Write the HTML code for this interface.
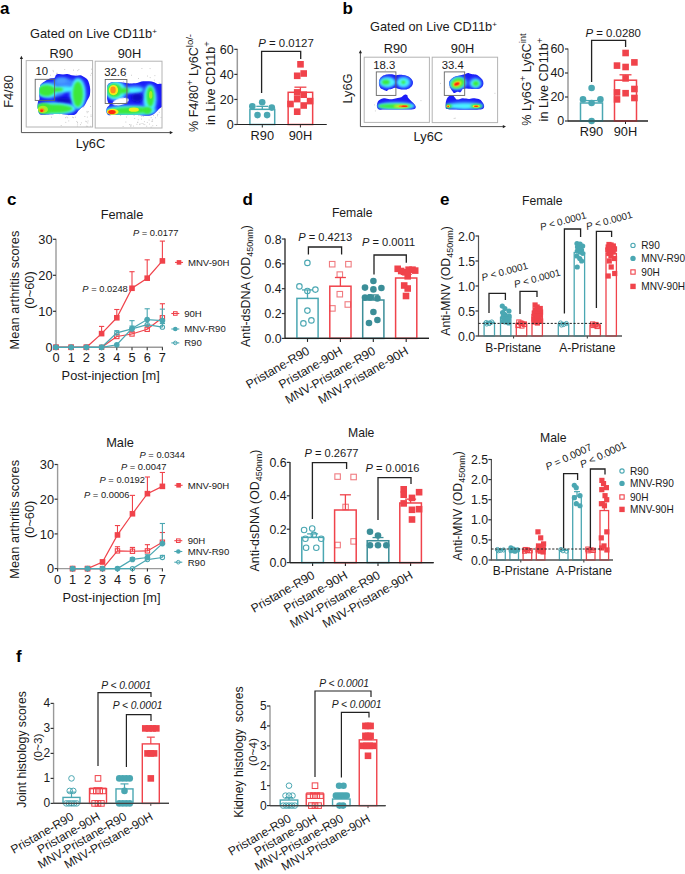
<!DOCTYPE html>
<html><head><meta charset="utf-8"><title>Figure</title>
<style>
html,body{margin:0;padding:0;background:#fff;}
body{width:685px;height:874px;overflow:hidden;position:relative;}
svg{position:absolute;left:0;top:0;}
text{font-family:"Liberation Sans",sans-serif;}
</style></head><body>
<svg width="685" height="874" viewBox="0 0 685 874" fill="#1a1a1a">
<rect x="0" y="0" width="685" height="874" fill="#fff"/>
<text x="0" y="13.5" font-size="17" font-weight="bold" fill="#000">a</text>
<text x="342.5" y="13.5" font-size="17" font-weight="bold" fill="#000">b</text>
<text x="7" y="205" font-size="17" font-weight="bold" fill="#000">c</text>
<text x="242.5" y="205" font-size="17" font-weight="bold" fill="#000">d</text>
<text x="440" y="205" font-size="17" font-weight="bold" fill="#000">e</text>
<text x="16" y="662" font-size="17" font-weight="bold" fill="#000">f</text>
<defs><filter id="fb1" x="-20%" y="-20%" width="140%" height="140%"><feGaussianBlur stdDeviation="0.55"/></filter><filter id="fb2" x="-50%" y="-50%" width="200%" height="200%"><feGaussianBlur stdDeviation="1.0"/></filter><filter id="fb4" x="-50%" y="-50%" width="200%" height="200%"><feGaussianBlur stdDeviation="1.6"/></filter><filter id="fb3" x="-50%" y="-50%" width="200%" height="200%"><feGaussianBlur stdDeviation="0.7"/></filter><clipPath id="clipA2"><rect x="95.2" y="61.6" width="66.8" height="66.4"/></clipPath></defs>
<rect x="63.6" y="74.75" width="0.9" height="0.9" fill="#c4c4c4"/>
<rect x="77.34" y="70.2" width="0.9" height="0.9" fill="#c4c4c4"/>
<rect x="72.51" y="87.21" width="0.9" height="0.9" fill="#c4c4c4"/>
<rect x="52.44" y="95.43" width="0.9" height="0.9" fill="#c4c4c4"/>
<rect x="51.57" y="91.15" width="0.9" height="0.9" fill="#c4c4c4"/>
<rect x="52.93" y="71.26" width="0.9" height="0.9" fill="#c4c4c4"/>
<rect x="67.83" y="113.96" width="0.9" height="0.9" fill="#c4c4c4"/>
<rect x="55.2" y="78.95" width="0.9" height="0.9" fill="#c4c4c4"/>
<rect x="76.35" y="120.97" width="0.9" height="0.9" fill="#c4c4c4"/>
<rect x="74.24" y="89.01" width="0.9" height="0.9" fill="#c4c4c4"/>
<rect x="91" y="68.7" width="0.9" height="0.9" fill="#c4c4c4"/>
<rect x="86.06" y="82.8" width="0.9" height="0.9" fill="#c4c4c4"/>
<rect x="56.06" y="72.83" width="0.9" height="0.9" fill="#c4c4c4"/>
<rect x="62.96" y="113.34" width="0.9" height="0.9" fill="#c4c4c4"/>
<rect x="57.59" y="99.73" width="0.9" height="0.9" fill="#c4c4c4"/>
<rect x="76.83" y="87.6" width="0.9" height="0.9" fill="#c4c4c4"/>
<rect x="73.01" y="69.64" width="0.9" height="0.9" fill="#c4c4c4"/>
<rect x="52.5" y="77.95" width="0.9" height="0.9" fill="#c4c4c4"/>
<rect x="78.58" y="90.8" width="0.9" height="0.9" fill="#c4c4c4"/>
<rect x="63.19" y="99.96" width="0.9" height="0.9" fill="#c4c4c4"/>
<rect x="69.03" y="83.39" width="0.9" height="0.9" fill="#c4c4c4"/>
<rect x="83.36" y="106.54" width="0.9" height="0.9" fill="#c4c4c4"/>
<rect x="60.25" y="99.32" width="0.9" height="0.9" fill="#c4c4c4"/>
<rect x="72.06" y="116.76" width="0.9" height="0.9" fill="#c4c4c4"/>
<rect x="80.64" y="82.7" width="0.9" height="0.9" fill="#c4c4c4"/>
<rect x="91.17" y="72.85" width="0.9" height="0.9" fill="#c4c4c4"/>
<rect x="67.56" y="109.91" width="0.9" height="0.9" fill="#c4c4c4"/>
<rect x="56.38" y="94.36" width="0.9" height="0.9" fill="#c4c4c4"/>
<rect x="51.65" y="104.76" width="0.9" height="0.9" fill="#c4c4c4"/>
<rect x="82.11" y="99.24" width="0.9" height="0.9" fill="#c4c4c4"/>
<rect x="86.77" y="84.2" width="0.9" height="0.9" fill="#c4c4c4"/>
<rect x="79.2" y="100.47" width="0.9" height="0.9" fill="#c4c4c4"/>
<rect x="74.36" y="92.46" width="0.9" height="0.9" fill="#c4c4c4"/>
<rect x="85.28" y="120.79" width="0.9" height="0.9" fill="#c4c4c4"/>
<rect x="69.91" y="104.52" width="0.9" height="0.9" fill="#c4c4c4"/>
<rect x="52.55" y="106.69" width="0.9" height="0.9" fill="#c4c4c4"/>
<rect x="77.18" y="123.6" width="0.9" height="0.9" fill="#c4c4c4"/>
<rect x="84.52" y="82.51" width="0.9" height="0.9" fill="#c4c4c4"/>
<rect x="66.2" y="104.78" width="0.9" height="0.9" fill="#c4c4c4"/>
<rect x="50.95" y="92.78" width="0.9" height="0.9" fill="#c4c4c4"/>
<rect x="57.06" y="72.79" width="0.9" height="0.9" fill="#c4c4c4"/>
<rect x="52.48" y="110.56" width="0.9" height="0.9" fill="#c4c4c4"/>
<rect x="55.43" y="80.36" width="0.9" height="0.9" fill="#c4c4c4"/>
<rect x="66.42" y="116.54" width="0.9" height="0.9" fill="#c4c4c4"/>
<rect x="53.38" y="92.05" width="0.9" height="0.9" fill="#c4c4c4"/>
<rect x="73.08" y="117.24" width="0.9" height="0.9" fill="#c4c4c4"/>
<rect x="84.41" y="116.11" width="0.9" height="0.9" fill="#c4c4c4"/>
<rect x="61.69" y="90.09" width="0.9" height="0.9" fill="#c4c4c4"/>
<rect x="65.07" y="117.28" width="0.9" height="0.9" fill="#c4c4c4"/>
<rect x="90.22" y="74.75" width="0.9" height="0.9" fill="#c4c4c4"/>
<rect x="57.4" y="79.45" width="0.9" height="0.9" fill="#c4c4c4"/>
<rect x="59.8" y="94.13" width="0.9" height="0.9" fill="#c4c4c4"/>
<rect x="74.74" y="81.24" width="0.9" height="0.9" fill="#c4c4c4"/>
<rect x="50.17" y="90.3" width="0.9" height="0.9" fill="#c4c4c4"/>
<rect x="65.51" y="98.85" width="0.9" height="0.9" fill="#c4c4c4"/>
<rect x="90.03" y="106.05" width="0.9" height="0.9" fill="#c4c4c4"/>
<rect x="71.65" y="101.82" width="0.9" height="0.9" fill="#c4c4c4"/>
<rect x="78.4" y="69.13" width="0.9" height="0.9" fill="#c4c4c4"/>
<rect x="87.78" y="111.24" width="0.9" height="0.9" fill="#c4c4c4"/>
<rect x="86.73" y="112.28" width="0.9" height="0.9" fill="#c4c4c4"/>
<rect x="66.48" y="89.14" width="0.9" height="0.9" fill="#c4c4c4"/>
<rect x="54.35" y="102.79" width="0.9" height="0.9" fill="#c4c4c4"/>
<rect x="52.61" y="69.91" width="0.9" height="0.9" fill="#c4c4c4"/>
<rect x="58.77" y="75.41" width="0.9" height="0.9" fill="#c4c4c4"/>
<rect x="64.28" y="69.05" width="0.9" height="0.9" fill="#c4c4c4"/>
<rect x="50.01" y="74.77" width="0.9" height="0.9" fill="#c4c4c4"/>
<rect x="54.26" y="87.09" width="0.9" height="0.9" fill="#c4c4c4"/>
<rect x="51.07" y="116.71" width="0.9" height="0.9" fill="#c4c4c4"/>
<rect x="75.79" y="74.62" width="0.9" height="0.9" fill="#c4c4c4"/>
<rect x="60.59" y="86.15" width="0.9" height="0.9" fill="#c4c4c4"/>
<rect x="71.65" y="110.21" width="0.9" height="0.9" fill="#c4c4c4"/>
<rect x="87.17" y="125.88" width="0.9" height="0.9" fill="#c4c4c4"/>
<rect x="74.91" y="116.71" width="0.9" height="0.9" fill="#c4c4c4"/>
<rect x="62.75" y="109.84" width="0.9" height="0.9" fill="#c4c4c4"/>
<rect x="70.96" y="112.77" width="0.9" height="0.9" fill="#c4c4c4"/>
<rect x="86.52" y="110.91" width="0.9" height="0.9" fill="#c4c4c4"/>
<rect x="60.74" y="125.12" width="0.9" height="0.9" fill="#c4c4c4"/>
<rect x="76.9" y="110.64" width="0.9" height="0.9" fill="#c4c4c4"/>
<rect x="77.38" y="108.49" width="0.9" height="0.9" fill="#c4c4c4"/>
<rect x="76.9" y="125.61" width="0.9" height="0.9" fill="#c4c4c4"/>
<rect x="87.63" y="120.53" width="0.9" height="0.9" fill="#c4c4c4"/>
<rect x="68.36" y="114.6" width="0.9" height="0.9" fill="#c4c4c4"/>
<rect x="65.35" y="121.89" width="0.9" height="0.9" fill="#c4c4c4"/>
<rect x="77.04" y="122.02" width="0.9" height="0.9" fill="#c4c4c4"/>
<rect x="70.55" y="112.01" width="0.9" height="0.9" fill="#c4c4c4"/>
<rect x="85.97" y="125.73" width="0.9" height="0.9" fill="#c4c4c4"/>
<rect x="87.28" y="122.51" width="0.9" height="0.9" fill="#c4c4c4"/>
<rect x="86.19" y="121.32" width="0.9" height="0.9" fill="#c4c4c4"/>
<rect x="67.26" y="117.32" width="0.9" height="0.9" fill="#c4c4c4"/>
<rect x="71.38" y="108.52" width="0.9" height="0.9" fill="#c4c4c4"/>
<rect x="60.89" y="113.03" width="0.9" height="0.9" fill="#c4c4c4"/>
<rect x="68.29" y="120.47" width="0.9" height="0.9" fill="#c4c4c4"/>
<rect x="90.61" y="116.05" width="0.9" height="0.9" fill="#c4c4c4"/>
<rect x="89.98" y="125.78" width="0.9" height="0.9" fill="#c4c4c4"/>
<rect x="90.56" y="114.56" width="0.9" height="0.9" fill="#c4c4c4"/>
<rect x="67.05" y="112.08" width="0.9" height="0.9" fill="#c4c4c4"/>
<rect x="66.29" y="111.68" width="0.9" height="0.9" fill="#c4c4c4"/>
<rect x="79.97" y="124.21" width="0.9" height="0.9" fill="#c4c4c4"/>
<rect x="86.89" y="116.63" width="0.9" height="0.9" fill="#c4c4c4"/>
<rect x="80.9" y="122.39" width="0.9" height="0.9" fill="#c4c4c4"/>
<rect x="123.48" y="106.64" width="0.9" height="0.9" fill="#c4c4c4"/>
<rect x="157.3" y="113.94" width="0.9" height="0.9" fill="#c4c4c4"/>
<rect x="150.76" y="95.68" width="0.9" height="0.9" fill="#c4c4c4"/>
<rect x="127.32" y="114.35" width="0.9" height="0.9" fill="#c4c4c4"/>
<rect x="133.63" y="115.05" width="0.9" height="0.9" fill="#c4c4c4"/>
<rect x="159.84" y="90.75" width="0.9" height="0.9" fill="#c4c4c4"/>
<rect x="136.46" y="123.81" width="0.9" height="0.9" fill="#c4c4c4"/>
<rect x="149.72" y="77.2" width="0.9" height="0.9" fill="#c4c4c4"/>
<rect x="125.21" y="76.07" width="0.9" height="0.9" fill="#c4c4c4"/>
<rect x="157.1" y="115.39" width="0.9" height="0.9" fill="#c4c4c4"/>
<rect x="125.99" y="116.59" width="0.9" height="0.9" fill="#c4c4c4"/>
<rect x="160.19" y="106.44" width="0.9" height="0.9" fill="#c4c4c4"/>
<rect x="134.37" y="99.92" width="0.9" height="0.9" fill="#c4c4c4"/>
<rect x="125.37" y="67.85" width="0.9" height="0.9" fill="#c4c4c4"/>
<rect x="159.81" y="105.98" width="0.9" height="0.9" fill="#c4c4c4"/>
<rect x="141.59" y="123.02" width="0.9" height="0.9" fill="#c4c4c4"/>
<rect x="137.79" y="119.3" width="0.9" height="0.9" fill="#c4c4c4"/>
<rect x="153.87" y="79.66" width="0.9" height="0.9" fill="#c4c4c4"/>
<rect x="130.33" y="84.58" width="0.9" height="0.9" fill="#c4c4c4"/>
<rect x="129.86" y="102.19" width="0.9" height="0.9" fill="#c4c4c4"/>
<rect x="130.63" y="92.14" width="0.9" height="0.9" fill="#c4c4c4"/>
<rect x="125.37" y="121.6" width="0.9" height="0.9" fill="#c4c4c4"/>
<rect x="134.51" y="94.49" width="0.9" height="0.9" fill="#c4c4c4"/>
<rect x="143.92" y="121.26" width="0.9" height="0.9" fill="#c4c4c4"/>
<rect x="137.25" y="122.06" width="0.9" height="0.9" fill="#c4c4c4"/>
<rect x="140.57" y="98.91" width="0.9" height="0.9" fill="#c4c4c4"/>
<rect x="141.46" y="68.12" width="0.9" height="0.9" fill="#c4c4c4"/>
<rect x="138.05" y="77.99" width="0.9" height="0.9" fill="#c4c4c4"/>
<rect x="120.16" y="114.95" width="0.9" height="0.9" fill="#c4c4c4"/>
<rect x="127.07" y="95.41" width="0.9" height="0.9" fill="#c4c4c4"/>
<rect x="149.73" y="100.39" width="0.9" height="0.9" fill="#c4c4c4"/>
<rect x="133.37" y="98.1" width="0.9" height="0.9" fill="#c4c4c4"/>
<rect x="142.77" y="114.06" width="0.9" height="0.9" fill="#c4c4c4"/>
<rect x="124.35" y="100.62" width="0.9" height="0.9" fill="#c4c4c4"/>
<rect x="130.19" y="83.62" width="0.9" height="0.9" fill="#c4c4c4"/>
<rect x="151.66" y="97.46" width="0.9" height="0.9" fill="#c4c4c4"/>
<rect x="143.03" y="112.6" width="0.9" height="0.9" fill="#c4c4c4"/>
<rect x="157.41" y="93.59" width="0.9" height="0.9" fill="#c4c4c4"/>
<rect x="145.11" y="97.33" width="0.9" height="0.9" fill="#c4c4c4"/>
<rect x="141" y="108.56" width="0.9" height="0.9" fill="#c4c4c4"/>
<rect x="138.55" y="99" width="0.9" height="0.9" fill="#c4c4c4"/>
<rect x="139.6" y="123.49" width="0.9" height="0.9" fill="#c4c4c4"/>
<rect x="148.67" y="119.59" width="0.9" height="0.9" fill="#c4c4c4"/>
<rect x="158.63" y="82.58" width="0.9" height="0.9" fill="#c4c4c4"/>
<rect x="142.94" y="123.6" width="0.9" height="0.9" fill="#c4c4c4"/>
<rect x="154.44" y="75.23" width="0.9" height="0.9" fill="#c4c4c4"/>
<rect x="124.99" y="93.53" width="0.9" height="0.9" fill="#c4c4c4"/>
<rect x="122.97" y="81.44" width="0.9" height="0.9" fill="#c4c4c4"/>
<rect x="123" y="107.17" width="0.9" height="0.9" fill="#c4c4c4"/>
<rect x="152.14" y="120.82" width="0.9" height="0.9" fill="#c4c4c4"/>
<rect x="126.33" y="109.97" width="0.9" height="0.9" fill="#c4c4c4"/>
<rect x="147.07" y="75.58" width="0.9" height="0.9" fill="#c4c4c4"/>
<rect x="156.2" y="125.05" width="0.9" height="0.9" fill="#c4c4c4"/>
<rect x="129" y="124.15" width="0.9" height="0.9" fill="#c4c4c4"/>
<rect x="136.33" y="96.24" width="0.9" height="0.9" fill="#c4c4c4"/>
<rect x="160.58" y="116.95" width="0.9" height="0.9" fill="#c4c4c4"/>
<rect x="126.62" y="92.89" width="0.9" height="0.9" fill="#c4c4c4"/>
<rect x="141.14" y="87.35" width="0.9" height="0.9" fill="#c4c4c4"/>
<rect x="128.03" y="86.11" width="0.9" height="0.9" fill="#c4c4c4"/>
<rect x="149.61" y="68.17" width="0.9" height="0.9" fill="#c4c4c4"/>
<rect x="142.72" y="93.43" width="0.9" height="0.9" fill="#c4c4c4"/>
<rect x="120.74" y="86.89" width="0.9" height="0.9" fill="#c4c4c4"/>
<rect x="145.58" y="97.74" width="0.9" height="0.9" fill="#c4c4c4"/>
<rect x="122.64" y="126.1" width="0.9" height="0.9" fill="#c4c4c4"/>
<rect x="152.32" y="125.3" width="0.9" height="0.9" fill="#c4c4c4"/>
<rect x="124.3" y="82.93" width="0.9" height="0.9" fill="#c4c4c4"/>
<rect x="121.62" y="113.74" width="0.9" height="0.9" fill="#c4c4c4"/>
<rect x="131.09" y="74.77" width="0.9" height="0.9" fill="#c4c4c4"/>
<rect x="137.31" y="121.68" width="0.9" height="0.9" fill="#c4c4c4"/>
<rect x="153.58" y="82.52" width="0.9" height="0.9" fill="#c4c4c4"/>
<rect x="132.93" y="125.63" width="0.9" height="0.9" fill="#c4c4c4"/>
<rect x="146.83" y="121.91" width="0.9" height="0.9" fill="#c4c4c4"/>
<rect x="130.95" y="110.98" width="0.9" height="0.9" fill="#c4c4c4"/>
<rect x="150.71" y="117.23" width="0.9" height="0.9" fill="#c4c4c4"/>
<rect x="130.39" y="125.95" width="0.9" height="0.9" fill="#c4c4c4"/>
<rect x="148.94" y="123.63" width="0.9" height="0.9" fill="#c4c4c4"/>
<rect x="130.76" y="124.56" width="0.9" height="0.9" fill="#c4c4c4"/>
<rect x="130.2" y="124.67" width="0.9" height="0.9" fill="#c4c4c4"/>
<rect x="142.97" y="115.77" width="0.9" height="0.9" fill="#c4c4c4"/>
<rect x="146.25" y="125.75" width="0.9" height="0.9" fill="#c4c4c4"/>
<rect x="136.84" y="112.2" width="0.9" height="0.9" fill="#c4c4c4"/>
<rect x="145.39" y="114.05" width="0.9" height="0.9" fill="#c4c4c4"/>
<rect x="131.61" y="112.74" width="0.9" height="0.9" fill="#c4c4c4"/>
<rect x="129.66" y="113.43" width="0.9" height="0.9" fill="#c4c4c4"/>
<rect x="138.3" y="115.19" width="0.9" height="0.9" fill="#c4c4c4"/>
<rect x="153.06" y="114.93" width="0.9" height="0.9" fill="#c4c4c4"/>
<rect x="144.5" y="113.02" width="0.9" height="0.9" fill="#c4c4c4"/>
<rect x="139.45" y="110.31" width="0.9" height="0.9" fill="#c4c4c4"/>
<rect x="136.26" y="110.26" width="0.9" height="0.9" fill="#c4c4c4"/>
<rect x="152.19" y="119.37" width="0.9" height="0.9" fill="#c4c4c4"/>
<rect x="134.25" y="118.07" width="0.9" height="0.9" fill="#c4c4c4"/>
<rect x="158.84" y="111.81" width="0.9" height="0.9" fill="#c4c4c4"/>
<rect x="155.02" y="117.35" width="0.9" height="0.9" fill="#c4c4c4"/>
<rect x="144.34" y="124.19" width="0.9" height="0.9" fill="#c4c4c4"/>
<rect x="140.97" y="118.61" width="0.9" height="0.9" fill="#c4c4c4"/>
<rect x="150.7" y="126.7" width="0.9" height="0.9" fill="#c4c4c4"/>
<rect x="139.31" y="124.15" width="0.9" height="0.9" fill="#c4c4c4"/>
<rect x="151.32" y="120.81" width="0.9" height="0.9" fill="#c4c4c4"/>
<rect x="141.36" y="115.91" width="0.9" height="0.9" fill="#c4c4c4"/>
<rect x="129.79" y="112.21" width="0.9" height="0.9" fill="#c4c4c4"/>
<rect x="374.1" y="104.45" width="0.9" height="0.9" fill="#c4c4c4"/>
<rect x="384.82" y="69.79" width="0.9" height="0.9" fill="#c4c4c4"/>
<rect x="374.9" y="110.48" width="0.9" height="0.9" fill="#c4c4c4"/>
<rect x="420.49" y="100.23" width="0.9" height="0.9" fill="#c4c4c4"/>
<rect x="386.35" y="74.53" width="0.9" height="0.9" fill="#c4c4c4"/>
<rect x="387" y="87.57" width="0.9" height="0.9" fill="#c4c4c4"/>
<rect x="448.82" y="86.75" width="0.9" height="0.9" fill="#c4c4c4"/>
<rect x="454.74" y="117.71" width="0.9" height="0.9" fill="#c4c4c4"/>
<rect x="494.47" y="92.82" width="0.9" height="0.9" fill="#c4c4c4"/>
<rect x="453.69" y="117.94" width="0.9" height="0.9" fill="#c4c4c4"/>
<rect x="457.33" y="81.4" width="0.9" height="0.9" fill="#c4c4c4"/>
<rect x="440.06" y="82.9" width="0.9" height="0.9" fill="#c4c4c4"/>
<clipPath id="bc1"><path d="M38.5,111.16 C38.21,109.99 37.7,108.38 37.63,106.78 C37.55,105.17 37.74,102.84 38.06,101.52 C38.39,100.21 39.36,100.06 39.55,98.9 C39.74,97.73 39.16,96.42 39.2,94.52 C39.25,92.62 39.5,89.26 39.82,87.51 C40.14,85.76 40.33,85.03 41.13,84.01 C41.93,82.99 43.46,82.19 44.63,81.38 C45.8,80.58 46.97,79.71 48.13,79.19 C49.3,78.68 50.54,78.57 51.64,78.32 C52.73,78.07 53.97,78.29 54.7,77.71 C55.43,77.12 55.36,75.44 56.02,74.82 C56.67,74.19 57.48,74.01 58.64,73.94 C59.81,73.87 61.56,74.38 63.02,74.38 C64.48,74.38 65.94,73.79 67.4,73.94 C68.86,74.09 70.32,74.96 71.78,75.25 C73.24,75.55 74.7,75.69 76.16,75.69 C77.62,75.69 79.22,75.04 80.53,75.25 C81.85,75.47 82.87,76.28 84.04,77.01 C85.2,77.73 86.66,78.46 87.54,79.63 C88.42,80.8 88.85,82.41 89.29,84.01 C89.73,85.62 90.09,87.37 90.17,89.26 C90.24,91.16 90.17,93.64 89.73,95.39 C89.29,97.15 88.2,98.46 87.54,99.77 C86.88,101.09 86.37,102.25 85.79,103.27 C85.2,104.3 84.77,105.17 84.04,105.9 C83.31,106.63 82.29,106.92 81.41,107.65 C80.53,108.38 79.66,109.26 78.78,110.28 C77.91,111.3 77.18,112.98 76.16,113.78 C75.13,114.59 74.4,114.98 72.65,115.1 C70.9,115.21 68.27,114.66 65.65,114.48 C63.02,114.31 59.81,114.06 56.89,114.05 C53.97,114.03 50.62,114.26 48.13,114.4 C45.65,114.53 43.46,114.94 42.01,114.83 C40.55,114.73 39.96,114.4 39.38,113.78 C38.79,113.17 38.79,112.32 38.5,111.16Z"/></clipPath>
<path d="M38.5,111.16 C38.21,109.99 37.7,108.38 37.63,106.78 C37.55,105.17 37.74,102.84 38.06,101.52 C38.39,100.21 39.36,100.06 39.55,98.9 C39.74,97.73 39.16,96.42 39.2,94.52 C39.25,92.62 39.5,89.26 39.82,87.51 C40.14,85.76 40.33,85.03 41.13,84.01 C41.93,82.99 43.46,82.19 44.63,81.38 C45.8,80.58 46.97,79.71 48.13,79.19 C49.3,78.68 50.54,78.57 51.64,78.32 C52.73,78.07 53.97,78.29 54.7,77.71 C55.43,77.12 55.36,75.44 56.02,74.82 C56.67,74.19 57.48,74.01 58.64,73.94 C59.81,73.87 61.56,74.38 63.02,74.38 C64.48,74.38 65.94,73.79 67.4,73.94 C68.86,74.09 70.32,74.96 71.78,75.25 C73.24,75.55 74.7,75.69 76.16,75.69 C77.62,75.69 79.22,75.04 80.53,75.25 C81.85,75.47 82.87,76.28 84.04,77.01 C85.2,77.73 86.66,78.46 87.54,79.63 C88.42,80.8 88.85,82.41 89.29,84.01 C89.73,85.62 90.09,87.37 90.17,89.26 C90.24,91.16 90.17,93.64 89.73,95.39 C89.29,97.15 88.2,98.46 87.54,99.77 C86.88,101.09 86.37,102.25 85.79,103.27 C85.2,104.3 84.77,105.17 84.04,105.9 C83.31,106.63 82.29,106.92 81.41,107.65 C80.53,108.38 79.66,109.26 78.78,110.28 C77.91,111.3 77.18,112.98 76.16,113.78 C75.13,114.59 74.4,114.98 72.65,115.1 C70.9,115.21 68.27,114.66 65.65,114.48 C63.02,114.31 59.81,114.06 56.89,114.05 C53.97,114.03 50.62,114.26 48.13,114.4 C45.65,114.53 43.46,114.94 42.01,114.83 C40.55,114.73 39.96,114.4 39.38,113.78 C38.79,113.17 38.79,112.32 38.5,111.16Z" fill="#1a1af8" filter="url(#fb1)"/>
<g clip-path="url(#bc1)">
<ellipse cx="63.9" cy="83.13" rx="10.51" ry="5.25" fill="#3a86ff" filter="url(#fb4)"/>
<ellipse cx="50.76" cy="90.32" rx="14.01" ry="8.32" fill="#3a86ff" filter="url(#fb4)"/>
<ellipse cx="77.91" cy="93.64" rx="8.76" ry="16.2" fill="#3a86ff" filter="url(#fb4)"/>
<ellipse cx="55.14" cy="108.53" rx="21.02" ry="7.01" fill="#3a86ff" filter="url(#fb4)"/>
<ellipse cx="63.9" cy="100.21" rx="9.63" ry="2.8" fill="#0c0cc4" filter="url(#fb4)" transform="rotate(5 63.9 100.21)"/>
<ellipse cx="61.27" cy="80.51" rx="6.13" ry="3.06" fill="#4a9cff" filter="url(#fb4)"/>
<ellipse cx="47.26" cy="90.58" rx="10.51" ry="7.01" fill="#48f2ff" filter="url(#fb2)"/>
<ellipse cx="63.02" cy="89.44" rx="12.26" ry="3.15" fill="#48f2ff" filter="url(#fb2)" transform="rotate(-4 63.02 89.44)"/>
<ellipse cx="77.91" cy="93.64" rx="7.18" ry="14.89" fill="#48f2ff" filter="url(#fb2)"/>
<ellipse cx="54.7" cy="108.53" rx="20.58" ry="5.78" fill="#48f2ff" filter="url(#fb2)"/>
<ellipse cx="46.38" cy="90.58" rx="8.32" ry="5.6" fill="#3ee83a" filter="url(#fb2)"/>
<ellipse cx="56.89" cy="89.7" rx="6.57" ry="2.1" fill="#3ee83a" filter="url(#fb2)" transform="rotate(-4 56.89 89.7)"/>
<ellipse cx="77.91" cy="94.08" rx="5.08" ry="12.7" fill="#3ee83a" filter="url(#fb2)"/>
<ellipse cx="53.83" cy="108.79" rx="18.56" ry="4.2" fill="#3ee83a" filter="url(#fb2)"/>
<ellipse cx="43.76" cy="108.53" rx="7.88" ry="5.43" fill="#3ee83a" filter="url(#fb2)"/>
<ellipse cx="42.88" cy="109.4" rx="5.08" ry="3.68" fill="#a8ee22" filter="url(#fb3)"/>
<ellipse cx="42.01" cy="110.28" rx="2.45" ry="2.1" fill="#ff8a1a" filter="url(#fb3)"/>
<ellipse cx="41.65" cy="110.72" rx="1.4" ry="1.23" fill="#ff2a10" filter="url(#fb3)"/>
</g>
<g clip-path="url(#clipA2)">
<clipPath id="bc2"><path d="M107.12,91.93 C107.19,89.68 106.91,86.74 107.54,85.16 C108.18,83.58 109.23,82.99 110.93,82.45 C112.62,81.92 115.16,81.84 117.7,81.94 C120.24,82.04 124.05,82.79 126.17,83.04 C128.29,83.3 128.57,83.47 130.4,83.47 C132.24,83.47 135.06,83.4 137.18,83.04 C139.29,82.69 140.7,81.59 143.1,81.35 C145.5,81.11 149.17,81.18 151.57,81.6 C153.97,82.03 155.38,83.23 157.5,83.89 C159.61,84.55 163.14,82.41 164.27,85.58 C165.4,88.76 165.12,99.06 164.27,102.94 C163.43,106.82 160.6,107.32 159.19,108.87 C157.78,110.42 156.93,111.27 155.8,112.26 C154.68,113.24 153.83,114.2 152.42,114.8 C151.01,115.39 149.59,115.78 147.34,115.81 C145.08,115.84 141.69,115.11 138.87,114.97 C136.05,114.83 133.22,114.97 130.4,114.97 C127.58,114.97 124.76,114.97 121.93,114.97 C119.11,114.97 115.73,114.97 113.47,114.97 C111.21,114.97 109.54,115.42 108.39,114.97 C107.23,114.51 106.78,113.41 106.52,112.26 C106.27,111.1 106.34,109.26 106.86,108.02 C107.38,106.78 109.4,105.65 109.66,104.81 C109.91,103.96 108.81,103.96 108.39,102.94 C107.96,101.93 107.33,100.54 107.12,98.71 C106.91,96.87 107.05,94.19 107.12,91.93Z"/></clipPath>
<path d="M107.12,91.93 C107.19,89.68 106.91,86.74 107.54,85.16 C108.18,83.58 109.23,82.99 110.93,82.45 C112.62,81.92 115.16,81.84 117.7,81.94 C120.24,82.04 124.05,82.79 126.17,83.04 C128.29,83.3 128.57,83.47 130.4,83.47 C132.24,83.47 135.06,83.4 137.18,83.04 C139.29,82.69 140.7,81.59 143.1,81.35 C145.5,81.11 149.17,81.18 151.57,81.6 C153.97,82.03 155.38,83.23 157.5,83.89 C159.61,84.55 163.14,82.41 164.27,85.58 C165.4,88.76 165.12,99.06 164.27,102.94 C163.43,106.82 160.6,107.32 159.19,108.87 C157.78,110.42 156.93,111.27 155.8,112.26 C154.68,113.24 153.83,114.2 152.42,114.8 C151.01,115.39 149.59,115.78 147.34,115.81 C145.08,115.84 141.69,115.11 138.87,114.97 C136.05,114.83 133.22,114.97 130.4,114.97 C127.58,114.97 124.76,114.97 121.93,114.97 C119.11,114.97 115.73,114.97 113.47,114.97 C111.21,114.97 109.54,115.42 108.39,114.97 C107.23,114.51 106.78,113.41 106.52,112.26 C106.27,111.1 106.34,109.26 106.86,108.02 C107.38,106.78 109.4,105.65 109.66,104.81 C109.91,103.96 108.81,103.96 108.39,102.94 C107.96,101.93 107.33,100.54 107.12,98.71 C106.91,96.87 107.05,94.19 107.12,91.93Z" fill="#1a1af8" filter="url(#fb1)"/>
<g clip-path="url(#bc2)">
<ellipse cx="116.85" cy="91.09" rx="11.01" ry="9.74" fill="#3a86ff" filter="url(#fb4)"/>
<ellipse cx="134.64" cy="89.39" rx="10.16" ry="4.23" fill="#3a86ff" filter="url(#fb4)"/>
<ellipse cx="149.88" cy="98.71" rx="7.62" ry="14.82" fill="#3a86ff" filter="url(#fb4)"/>
<ellipse cx="131.25" cy="110.56" rx="26.25" ry="5.93" fill="#3a86ff" filter="url(#fb4)"/>
<ellipse cx="137.18" cy="97.44" rx="5.93" ry="4.23" fill="#0c0cc4" filter="url(#fb4)"/>
<ellipse cx="115.58" cy="90.66" rx="9.74" ry="8.89" fill="#48f2ff" filter="url(#fb2)"/>
<ellipse cx="132.94" cy="90.24" rx="9.74" ry="2.54" fill="#48f2ff" filter="url(#fb2)" transform="rotate(-3 132.94 90.24)"/>
<ellipse cx="149.88" cy="99.13" rx="5.76" ry="13.97" fill="#48f2ff" filter="url(#fb2)"/>
<ellipse cx="130.4" cy="110.56" rx="24.56" ry="4.4" fill="#48f2ff" filter="url(#fb2)"/>
<ellipse cx="114.31" cy="90.41" rx="7.45" ry="6.94" fill="#3ee83a" filter="url(#fb2)"/>
<ellipse cx="124.05" cy="90.66" rx="5.08" ry="2.54" fill="#3ee83a" filter="url(#fb2)" transform="rotate(-5 124.05 90.66)"/>
<ellipse cx="150.3" cy="96.59" rx="3.81" ry="10.16" fill="#3ee83a" filter="url(#fb2)"/>
<ellipse cx="129.56" cy="110.56" rx="22.44" ry="3.39" fill="#3ee83a" filter="url(#fb2)" transform="rotate(-2 129.56 110.56)"/>
<ellipse cx="147.34" cy="110.56" rx="3.81" ry="3.39" fill="#3ee83a" filter="url(#fb2)"/>
<ellipse cx="113.47" cy="90.07" rx="4.66" ry="5.08" fill="#f2ee1a" filter="url(#fb3)"/>
<ellipse cx="113.04" cy="89.9" rx="2.71" ry="3.39" fill="#ff8a1a" filter="url(#fb3)"/>
<ellipse cx="150.72" cy="94.9" rx="1.69" ry="3.81" fill="#a8ee22" filter="url(#fb3)"/>
<ellipse cx="133.79" cy="109.72" rx="5.08" ry="2.12" fill="#f2ee1a" filter="url(#fb3)"/>
<ellipse cx="112.62" cy="111.83" rx="5.93" ry="2.96" fill="#f2ee1a" filter="url(#fb3)"/>
<ellipse cx="111.94" cy="112" rx="3.81" ry="2.03" fill="#ff2a10" filter="url(#fb3)"/>
</g>
<ellipse cx="120.66" cy="101.67" rx="8.3" ry="3.39" fill="#fff" filter="url(#fb3)" transform="rotate(-14 120.66 101.67)"/>
</g>
<clipPath id="bc3"><path d="M378.94,83.14 C378.83,81.72 379.05,80.35 379.6,79.2 C380.15,78.05 381.02,77.01 382.23,76.24 C383.43,75.48 385.18,74.93 386.83,74.6 C388.47,74.27 390.66,74.16 392.08,74.27 C393.51,74.38 394.38,75.15 395.37,75.26 C396.35,75.37 396.79,74.98 398,74.93 C399.2,74.87 401.06,74.76 402.6,74.93 C404.13,75.09 405.88,75.42 407.19,75.91 C408.51,76.41 409.55,77.01 410.48,77.88 C411.41,78.76 412.45,79.96 412.78,81.17 C413.11,82.37 412.94,83.96 412.45,85.11 C411.96,86.26 410.81,87.36 409.82,88.07 C408.84,88.78 407.96,89.16 406.54,89.38 C405.11,89.6 402.81,89.55 401.28,89.38 C399.75,89.22 398.43,88.67 397.34,88.4 C396.24,88.12 395.7,87.63 394.71,87.74 C393.73,87.85 392.52,88.73 391.43,89.05 C390.33,89.38 388.91,89.38 388.14,89.71 C387.37,90.04 387.59,91.02 386.83,91.02 C386.06,91.02 384.64,90.26 383.54,89.71 C382.45,89.16 381.02,88.83 380.26,87.74 C379.49,86.64 379.05,84.56 378.94,83.14Z"/></clipPath>
<path d="M378.94,83.14 C378.83,81.72 379.05,80.35 379.6,79.2 C380.15,78.05 381.02,77.01 382.23,76.24 C383.43,75.48 385.18,74.93 386.83,74.6 C388.47,74.27 390.66,74.16 392.08,74.27 C393.51,74.38 394.38,75.15 395.37,75.26 C396.35,75.37 396.79,74.98 398,74.93 C399.2,74.87 401.06,74.76 402.6,74.93 C404.13,75.09 405.88,75.42 407.19,75.91 C408.51,76.41 409.55,77.01 410.48,77.88 C411.41,78.76 412.45,79.96 412.78,81.17 C413.11,82.37 412.94,83.96 412.45,85.11 C411.96,86.26 410.81,87.36 409.82,88.07 C408.84,88.78 407.96,89.16 406.54,89.38 C405.11,89.6 402.81,89.55 401.28,89.38 C399.75,89.22 398.43,88.67 397.34,88.4 C396.24,88.12 395.7,87.63 394.71,87.74 C393.73,87.85 392.52,88.73 391.43,89.05 C390.33,89.38 388.91,89.38 388.14,89.71 C387.37,90.04 387.59,91.02 386.83,91.02 C386.06,91.02 384.64,90.26 383.54,89.71 C382.45,89.16 381.02,88.83 380.26,87.74 C379.49,86.64 379.05,84.56 378.94,83.14Z" fill="#1a1af8" filter="url(#fb1)"/>
<g clip-path="url(#bc3)">
<ellipse cx="386.83" cy="82.16" rx="8.54" ry="6.24" fill="#3a86ff" filter="url(#fb4)"/>
<ellipse cx="403.91" cy="82.16" rx="7.56" ry="6.24" fill="#3a86ff" filter="url(#fb4)"/>
<ellipse cx="387.48" cy="82.35" rx="7.56" ry="4.6" fill="#48f2ff" filter="url(#fb2)"/>
<ellipse cx="403.25" cy="82.35" rx="5.91" ry="4.47" fill="#48f2ff" filter="url(#fb2)"/>
<ellipse cx="385.84" cy="82.16" rx="3.81" ry="2.37" fill="#3ee83a" filter="url(#fb2)"/>
<ellipse cx="403.38" cy="82.16" rx="2.1" ry="1.77" fill="#3ee83a" filter="url(#fb2)"/>
</g>
<clipPath id="bc4"><path d="M376.97,106.79 C376.75,105.59 377.08,103.4 377.63,102.19 C378.18,100.99 379.27,100.22 380.26,99.57 C381.24,98.91 382.23,98.36 383.54,98.25 C384.86,98.14 386.72,98.75 388.14,98.91 C389.56,99.07 390.66,99.35 392.08,99.24 C393.51,99.13 395.15,98.58 396.68,98.25 C398.22,97.92 400.19,97.7 401.28,97.27 C402.38,96.83 402.62,96.1 403.25,95.62 C403.89,95.15 404.41,94.5 405.09,94.44 C405.77,94.39 406.84,94.77 407.33,95.3 C407.81,95.82 407.46,96.77 407.98,97.6 C408.51,98.42 409.41,99.13 410.48,100.22 C411.55,101.32 413.55,103.07 414.42,104.17 C415.3,105.26 415.74,106.01 415.74,106.79 C415.74,107.58 415.74,108.44 414.42,108.9 C413.11,109.36 410.04,109.44 407.85,109.55 C405.66,109.66 403.47,109.55 401.28,109.55 C399.09,109.55 397.45,109.55 394.71,109.55 C391.97,109.55 387.48,109.58 384.86,109.55 C382.23,109.53 380.26,109.88 378.94,109.42 C377.63,108.96 377.19,108 376.97,106.79Z"/></clipPath>
<path d="M376.97,106.79 C376.75,105.59 377.08,103.4 377.63,102.19 C378.18,100.99 379.27,100.22 380.26,99.57 C381.24,98.91 382.23,98.36 383.54,98.25 C384.86,98.14 386.72,98.75 388.14,98.91 C389.56,99.07 390.66,99.35 392.08,99.24 C393.51,99.13 395.15,98.58 396.68,98.25 C398.22,97.92 400.19,97.7 401.28,97.27 C402.38,96.83 402.62,96.1 403.25,95.62 C403.89,95.15 404.41,94.5 405.09,94.44 C405.77,94.39 406.84,94.77 407.33,95.3 C407.81,95.82 407.46,96.77 407.98,97.6 C408.51,98.42 409.41,99.13 410.48,100.22 C411.55,101.32 413.55,103.07 414.42,104.17 C415.3,105.26 415.74,106.01 415.74,106.79 C415.74,107.58 415.74,108.44 414.42,108.9 C413.11,109.36 410.04,109.44 407.85,109.55 C405.66,109.66 403.47,109.55 401.28,109.55 C399.09,109.55 397.45,109.55 394.71,109.55 C391.97,109.55 387.48,109.58 384.86,109.55 C382.23,109.53 380.26,109.88 378.94,109.42 C377.63,108.96 377.19,108 376.97,106.79Z" fill="#1a1af8" filter="url(#fb1)"/>
<g clip-path="url(#bc4)">
<ellipse cx="396.02" cy="105.81" rx="19.05" ry="4.07" fill="#3a86ff" filter="url(#fb4)"/>
<ellipse cx="396.02" cy="106.01" rx="18.07" ry="3.02" fill="#48f2ff" filter="url(#fb2)"/>
<ellipse cx="394.71" cy="106.2" rx="16.43" ry="2.23" fill="#3ee83a" filter="url(#fb2)"/>
<ellipse cx="401.28" cy="106.2" rx="7.88" ry="1.45" fill="#f2ee1a" filter="url(#fb2)"/>
<ellipse cx="403.25" cy="106.2" rx="4.6" ry="1.05" fill="#ff8a1a" filter="url(#fb3)"/>
<ellipse cx="404.43" cy="106.2" rx="3.15" ry="0.79" fill="#ff2a10" filter="url(#fb3)"/>
</g>
<clipPath id="bc5"><path d="M449.24,84.45 C449.02,83.14 449.08,82.21 449.57,81.17 C450.06,80.13 451.1,79.03 452.2,78.21 C453.29,77.39 454.72,76.73 456.14,76.24 C457.56,75.75 459.32,75.58 460.74,75.26 C462.16,74.93 463.48,74.65 464.68,74.27 C465.89,73.89 466.87,73.01 467.97,72.96 C469.06,72.9 469.94,73.67 471.25,73.94 C472.57,74.22 474.54,74.16 475.85,74.6 C477.17,75.04 478.04,75.69 479.14,76.57 C480.23,77.45 481.71,78.76 482.42,79.86 C483.13,80.95 483.41,82.05 483.41,83.14 C483.41,84.24 483.13,85.49 482.42,86.43 C481.71,87.36 480.45,88.29 479.14,88.73 C477.82,89.16 475.96,89.05 474.54,89.05 C473.11,89.05 472.02,88.83 470.6,88.73 C469.17,88.62 467.31,88.34 466,88.4 C464.68,88.45 463.48,88.62 462.71,89.05 C461.94,89.49 461.83,90.48 461.4,91.02 C460.96,91.57 460.74,92.23 460.08,92.34 C459.43,92.45 458.44,91.57 457.45,91.68 C456.47,91.79 454.94,93 454.17,93 C453.4,93 453.4,92.34 452.86,91.68 C452.31,91.02 451.49,90.26 450.88,89.05 C450.28,87.85 449.46,85.77 449.24,84.45Z"/></clipPath>
<path d="M449.24,84.45 C449.02,83.14 449.08,82.21 449.57,81.17 C450.06,80.13 451.1,79.03 452.2,78.21 C453.29,77.39 454.72,76.73 456.14,76.24 C457.56,75.75 459.32,75.58 460.74,75.26 C462.16,74.93 463.48,74.65 464.68,74.27 C465.89,73.89 466.87,73.01 467.97,72.96 C469.06,72.9 469.94,73.67 471.25,73.94 C472.57,74.22 474.54,74.16 475.85,74.6 C477.17,75.04 478.04,75.69 479.14,76.57 C480.23,77.45 481.71,78.76 482.42,79.86 C483.13,80.95 483.41,82.05 483.41,83.14 C483.41,84.24 483.13,85.49 482.42,86.43 C481.71,87.36 480.45,88.29 479.14,88.73 C477.82,89.16 475.96,89.05 474.54,89.05 C473.11,89.05 472.02,88.83 470.6,88.73 C469.17,88.62 467.31,88.34 466,88.4 C464.68,88.45 463.48,88.62 462.71,89.05 C461.94,89.49 461.83,90.48 461.4,91.02 C460.96,91.57 460.74,92.23 460.08,92.34 C459.43,92.45 458.44,91.57 457.45,91.68 C456.47,91.79 454.94,93 454.17,93 C453.4,93 453.4,92.34 452.86,91.68 C452.31,91.02 451.49,90.26 450.88,89.05 C450.28,87.85 449.46,85.77 449.24,84.45Z" fill="#1a1af8" filter="url(#fb1)"/>
<g clip-path="url(#bc5)">
<ellipse cx="458.11" cy="82.81" rx="9.86" ry="6.9" fill="#3a86ff" filter="url(#fb4)"/>
<ellipse cx="475.19" cy="83.14" rx="6.57" ry="5.58" fill="#3a86ff" filter="url(#fb4)"/>
<ellipse cx="457.45" cy="83.14" rx="7.88" ry="5.91" fill="#48f2ff" filter="url(#fb2)" transform="rotate(-15 457.45 83.14)"/>
<ellipse cx="475.52" cy="83.47" rx="4.93" ry="3.94" fill="#48f2ff" filter="url(#fb2)"/>
<ellipse cx="457.78" cy="83.14" rx="6.9" ry="4.93" fill="#3ee83a" filter="url(#fb2)" transform="rotate(-20 457.78 83.14)"/>
<ellipse cx="475.85" cy="83.47" rx="2.96" ry="2.5" fill="#3ee83a" filter="url(#fb2)"/>
<ellipse cx="457.13" cy="83.8" rx="4.47" ry="2.76" fill="#f2ee1a" filter="url(#fb2)" transform="rotate(-20 457.13 83.8)"/>
<ellipse cx="456.93" cy="83.93" rx="3.15" ry="1.84" fill="#ff8a1a" filter="url(#fb3)" transform="rotate(-20 456.93 83.93)"/>
<ellipse cx="456.8" cy="84.06" rx="2.37" ry="1.31" fill="#ff2a10" filter="url(#fb3)" transform="rotate(-20 456.8 84.06)"/>
</g>
<clipPath id="bc6"><path d="M445.63,106.79 C445.57,105.59 445.63,103.07 445.96,101.54 C446.29,100 446.89,98.58 447.6,97.6 C448.31,96.61 449.35,95.95 450.23,95.62 C451.1,95.3 452.09,95.3 452.86,95.62 C453.62,95.95 454.17,96.94 454.83,97.6 C455.48,98.25 455.92,99.35 456.8,99.57 C457.67,99.79 459.1,99.13 460.08,98.91 C461.07,98.69 461.73,98.31 462.71,98.25 C463.7,98.2 464.9,98.47 466,98.58 C467.09,98.69 467.86,98.96 469.28,98.91 C470.7,98.85 472.79,98.14 474.54,98.25 C476.29,98.36 478.48,98.91 479.79,99.57 C481.11,100.22 481.71,101.21 482.42,102.19 C483.13,103.18 483.95,104.38 484.06,105.48 C484.17,106.57 484.23,108.05 483.08,108.76 C481.93,109.48 479.47,109.59 477.17,109.75 C474.87,109.91 471.69,109.75 469.28,109.75 C466.87,109.75 464.9,109.81 462.71,109.75 C460.52,109.7 458.33,109.48 456.14,109.42 C453.95,109.37 451.21,109.53 449.57,109.42 C447.93,109.31 446.94,109.2 446.29,108.76 C445.63,108.33 445.68,108 445.63,106.79Z"/></clipPath>
<path d="M445.63,106.79 C445.57,105.59 445.63,103.07 445.96,101.54 C446.29,100 446.89,98.58 447.6,97.6 C448.31,96.61 449.35,95.95 450.23,95.62 C451.1,95.3 452.09,95.3 452.86,95.62 C453.62,95.95 454.17,96.94 454.83,97.6 C455.48,98.25 455.92,99.35 456.8,99.57 C457.67,99.79 459.1,99.13 460.08,98.91 C461.07,98.69 461.73,98.31 462.71,98.25 C463.7,98.2 464.9,98.47 466,98.58 C467.09,98.69 467.86,98.96 469.28,98.91 C470.7,98.85 472.79,98.14 474.54,98.25 C476.29,98.36 478.48,98.91 479.79,99.57 C481.11,100.22 481.71,101.21 482.42,102.19 C483.13,103.18 483.95,104.38 484.06,105.48 C484.17,106.57 484.23,108.05 483.08,108.76 C481.93,109.48 479.47,109.59 477.17,109.75 C474.87,109.91 471.69,109.75 469.28,109.75 C466.87,109.75 464.9,109.81 462.71,109.75 C460.52,109.7 458.33,109.48 456.14,109.42 C453.95,109.37 451.21,109.53 449.57,109.42 C447.93,109.31 446.94,109.2 446.29,108.76 C445.63,108.33 445.68,108 445.63,106.79Z" fill="#1a1af8" filter="url(#fb1)"/>
<g clip-path="url(#bc6)">
<ellipse cx="464.68" cy="105.48" rx="19.05" ry="3.94" fill="#3a86ff" filter="url(#fb4)"/>
<ellipse cx="464.68" cy="106.01" rx="17.74" ry="2.63" fill="#48f2ff" filter="url(#fb2)"/>
<ellipse cx="448.58" cy="106.14" rx="3.15" ry="2.1" fill="#3ee83a" filter="url(#fb2)"/>
<ellipse cx="476.18" cy="106.14" rx="5.78" ry="2.1" fill="#3ee83a" filter="url(#fb2)"/>
<ellipse cx="448.26" cy="106.27" rx="1.58" ry="1.31" fill="#f2ee1a" filter="url(#fb3)"/>
<ellipse cx="448.12" cy="106.33" rx="0.85" ry="0.85" fill="#ff2a10" filter="url(#fb3)"/>
<ellipse cx="476.18" cy="106.2" rx="3.68" ry="1.25" fill="#f2ee1a" filter="url(#fb3)"/>
<ellipse cx="476.18" cy="106.27" rx="2.37" ry="0.79" fill="#ff2a10" filter="url(#fb3)"/>
</g>
<rect x="26.2" y="60.6" width="66.4" height="66.4" stroke="#b4b4b4" stroke-width="1" fill="none"/>
<rect x="95.2" y="61.2" width="66.8" height="66.8" stroke="#b4b4b4" stroke-width="1" fill="none"/>
<rect x="35.2" y="79.3" width="19.4" height="21.1" stroke="#666666" stroke-width="0.9" fill="none"/>
<rect x="105.2" y="79.5" width="21.7" height="24" stroke="#666666" stroke-width="0.9" fill="none"/>
<line x1="21.4" y1="57.8" x2="21.4" y2="132.6" stroke="#555" stroke-width="1" />
<line x1="21.4" y1="132.6" x2="171" y2="132.6" stroke="#555" stroke-width="1" />
<path d="M21.4,55.8 L19.8,59 L23,59 Z" fill="#222"/>
<path d="M173,132.6 L169.8,131 L169.8,134.2 Z" fill="#222"/>
<text x="30" y="38.2" font-size="12.8">Gated on Live CD11b<tspan font-size="8" dy="-4.5">+</tspan></text>
<text x="61.3" y="58.4" font-size="12.8" text-anchor="middle">R90</text>
<text x="129.5" y="58.4" font-size="12.8" text-anchor="middle">90H</text>
<text x="35.5" y="75.4" font-size="11.3">10</text>
<text x="104.2" y="75.9" font-size="11.4">32.6</text>
<text x="90.5" y="147.6" font-size="12.8" text-anchor="middle">Ly6C</text>
<text x="13.4" y="91.5" font-size="12.8" text-anchor="middle" transform="rotate(-90 13.4 91.5)">F4/80</text>
<rect x="364.2" y="57.2" width="65.2" height="65.2" stroke="#b4b4b4" stroke-width="1" fill="none"/>
<rect x="432.2" y="57.2" width="65.4" height="65.4" stroke="#b4b4b4" stroke-width="1" fill="none"/>
<rect x="376.3" y="71.9" width="19.6" height="23.5" stroke="#666666" stroke-width="0.9" fill="none"/>
<rect x="444.3" y="71.9" width="20.4" height="23.5" stroke="#666666" stroke-width="0.9" fill="none"/>
<line x1="360.4" y1="52" x2="360.4" y2="126.6" stroke="#555" stroke-width="1" />
<line x1="360.4" y1="126.6" x2="504" y2="126.6" stroke="#555" stroke-width="1" />
<path d="M360.4,50 L358.8,53.2 L362,53.2 Z" fill="#222"/>
<path d="M506,126.6 L502.8,125 L502.8,128.2 Z" fill="#222"/>
<text x="370" y="31" font-size="12.8">Gated on Live CD11b<tspan font-size="8" dy="-4.5">+</tspan></text>
<text x="395.5" y="53.4" font-size="12.8" text-anchor="middle">R90</text>
<text x="462.6" y="53.4" font-size="12.8" text-anchor="middle">90H</text>
<text x="373.2" y="68.8" font-size="11.3">18.3</text>
<text x="441.8" y="69.3" font-size="11.3">33.4</text>
<text x="428.3" y="141.2" font-size="12.8" text-anchor="middle">Ly6C</text>
<text x="352.3" y="88.5" font-size="12.8" text-anchor="middle" transform="rotate(-90 352.3 88.5)">Ly6G</text>
<line x1="237.3" y1="48.85" x2="237.3" y2="125" stroke="#9a9a9a" stroke-width="1.5" />
<line x1="234.3" y1="124.5" x2="237.3" y2="124.5" stroke="#333" stroke-width="1.2" />
<text x="233.6" y="128.9" font-size="12.5" text-anchor="end">0</text>
<line x1="234.3" y1="99.45" x2="237.3" y2="99.45" stroke="#333" stroke-width="1.2" />
<text x="233.6" y="103.85" font-size="12.5" text-anchor="end">20</text>
<line x1="234.3" y1="74.4" x2="237.3" y2="74.4" stroke="#333" stroke-width="1.2" />
<text x="233.6" y="78.8" font-size="12.5" text-anchor="end">40</text>
<line x1="234.3" y1="49.35" x2="237.3" y2="49.35" stroke="#333" stroke-width="1.2" />
<text x="233.6" y="53.75" font-size="12.5" text-anchor="end">60</text>
<line x1="237.3" y1="124.5" x2="326.5" y2="124.5" stroke="#222" stroke-width="1.2" />
<line x1="262.3" y1="124.5" x2="262.3" y2="127.5" stroke="#222" stroke-width="1" />
<circle cx="252.3" cy="106.2" r="3.3" fill="#4aa7b2" stroke="none" stroke-width="1"/>
<circle cx="262.2" cy="102.3" r="3.3" fill="#4aa7b2" stroke="none" stroke-width="1"/>
<circle cx="271.8" cy="107.6" r="3.3" fill="#4aa7b2" stroke="none" stroke-width="1"/>
<circle cx="257.5" cy="115.1" r="3.3" fill="#4aa7b2" stroke="none" stroke-width="1"/>
<circle cx="267.1" cy="115.1" r="3.3" fill="#4aa7b2" stroke="none" stroke-width="1"/>
<rect x="249.9" y="109.34" width="24.8" height="15.16" stroke="#4aa7b2" stroke-width="1.5" fill="none"/>
<line x1="262.3" y1="109.34" x2="262.3" y2="106.34" stroke="#4aa7b2" stroke-width="1.3" />
<line x1="256.3" y1="106.34" x2="268.3" y2="106.34" stroke="#4aa7b2" stroke-width="1.3" />
<line x1="300.4" y1="124.5" x2="300.4" y2="127.5" stroke="#222" stroke-width="1" />
<rect x="297.2" y="61" width="6.6" height="6.6" stroke="none" stroke-width="1" fill="#f0434b"/>
<rect x="300.4" y="70.2" width="6.6" height="6.6" stroke="none" stroke-width="1" fill="#f0434b"/>
<rect x="293.9" y="72.5" width="6.6" height="6.6" stroke="none" stroke-width="1" fill="#f0434b"/>
<rect x="293.9" y="89.1" width="6.6" height="6.6" stroke="none" stroke-width="1" fill="#f0434b"/>
<rect x="300.4" y="91.4" width="6.6" height="6.6" stroke="none" stroke-width="1" fill="#f0434b"/>
<rect x="293.9" y="95.8" width="6.6" height="6.6" stroke="none" stroke-width="1" fill="#f0434b"/>
<rect x="287.2" y="100.7" width="6.6" height="6.6" stroke="none" stroke-width="1" fill="#f0434b"/>
<rect x="306.8" y="97.8" width="6.6" height="6.6" stroke="none" stroke-width="1" fill="#f0434b"/>
<rect x="300.4" y="102.2" width="6.6" height="6.6" stroke="none" stroke-width="1" fill="#f0434b"/>
<rect x="293.9" y="108.4" width="6.6" height="6.6" stroke="none" stroke-width="1" fill="#f0434b"/>
<rect x="288.15" y="92.31" width="24.5" height="32.19" stroke="#f0434b" stroke-width="1.5" fill="none"/>
<line x1="300.4" y1="92.31" x2="300.4" y2="87.18" stroke="#f0434b" stroke-width="1.3" />
<line x1="294.4" y1="87.18" x2="306.4" y2="87.18" stroke="#f0434b" stroke-width="1.3" />
<text x="262.3" y="140.3" font-size="12.8" text-anchor="middle">R90</text>
<text x="300.4" y="140.3" font-size="12.8" text-anchor="middle">90H</text>
<text x="198.3" y="83" font-size="12.6" text-anchor="middle" transform="rotate(-90 198.3 83)">% F4/80<tspan font-size="9.5" dy="-5">+</tspan><tspan dy="5"> Ly6C</tspan><tspan font-size="9.5" dy="-5">lo/-</tspan></text>
<text x="214.6" y="83" font-size="12.6" text-anchor="middle" transform="rotate(-90 214.6 83)">in Live CD11b<tspan font-size="9.5" dy="-5">+</tspan></text>
<text x="286" y="47" font-size="11.4" text-anchor="middle"><tspan font-style="italic">P</tspan> = 0.0127</text>
<polyline points="261.6,93 261.6,51.3 300.7,51.3 300.7,59.1" stroke="#222" stroke-width="1.3" fill="none"/>
<line x1="237.3" y1="124.5" x2="326.5" y2="124.5" stroke="#222" stroke-width="1.2" />
<line x1="568" y1="48.5" x2="568" y2="121.5" stroke="#9a9a9a" stroke-width="1.5" />
<line x1="565" y1="121" x2="568" y2="121" stroke="#333" stroke-width="1.2" />
<text x="564.3" y="125.4" font-size="12.5" text-anchor="end">0</text>
<line x1="565" y1="97" x2="568" y2="97" stroke="#333" stroke-width="1.2" />
<text x="564.3" y="101.4" font-size="12.5" text-anchor="end">20</text>
<line x1="565" y1="73" x2="568" y2="73" stroke="#333" stroke-width="1.2" />
<text x="564.3" y="77.4" font-size="12.5" text-anchor="end">40</text>
<line x1="565" y1="49" x2="568" y2="49" stroke="#333" stroke-width="1.2" />
<text x="564.3" y="53.4" font-size="12.5" text-anchor="end">60</text>
<line x1="568" y1="121" x2="648" y2="121" stroke="#222" stroke-width="1.2" />
<line x1="591.5" y1="121" x2="591.5" y2="124" stroke="#222" stroke-width="1" />
<circle cx="591.6" cy="88" r="3.3" fill="#4aa7b2" stroke="none" stroke-width="1"/>
<circle cx="583" cy="99.4" r="3.3" fill="#4aa7b2" stroke="none" stroke-width="1"/>
<circle cx="600.4" cy="99.4" r="3.3" fill="#4aa7b2" stroke="none" stroke-width="1"/>
<circle cx="591.6" cy="103" r="3.3" fill="#4aa7b2" stroke="none" stroke-width="1"/>
<circle cx="591.6" cy="121" r="3.3" fill="#4aa7b2" stroke="none" stroke-width="1"/>
<rect x="580.5" y="103" width="22" height="18" stroke="#4aa7b2" stroke-width="1.5" fill="none"/>
<line x1="591.5" y1="103" x2="591.5" y2="100.6" stroke="#4aa7b2" stroke-width="1.3" />
<line x1="585.5" y1="100.6" x2="597.5" y2="100.6" stroke="#4aa7b2" stroke-width="1.3" />
<line x1="625.5" y1="121" x2="625.5" y2="124" stroke="#222" stroke-width="1" />
<rect x="622.3" y="49.7" width="6.6" height="6.6" stroke="none" stroke-width="1" fill="#f0434b"/>
<rect x="613.7" y="62.3" width="6.6" height="6.6" stroke="none" stroke-width="1" fill="#f0434b"/>
<rect x="631.1" y="59.1" width="6.6" height="6.6" stroke="none" stroke-width="1" fill="#f0434b"/>
<rect x="622.3" y="63.7" width="6.6" height="6.6" stroke="none" stroke-width="1" fill="#f0434b"/>
<rect x="622.3" y="75.1" width="6.6" height="6.6" stroke="none" stroke-width="1" fill="#f0434b"/>
<rect x="613.7" y="89.1" width="6.6" height="6.6" stroke="none" stroke-width="1" fill="#f0434b"/>
<rect x="631.1" y="85.7" width="6.6" height="6.6" stroke="none" stroke-width="1" fill="#f0434b"/>
<rect x="622.3" y="89.9" width="6.6" height="6.6" stroke="none" stroke-width="1" fill="#f0434b"/>
<rect x="613.7" y="96.1" width="6.6" height="6.6" stroke="none" stroke-width="1" fill="#f0434b"/>
<rect x="631.1" y="94.7" width="6.6" height="6.6" stroke="none" stroke-width="1" fill="#f0434b"/>
<rect x="614.5" y="80.2" width="22" height="40.8" stroke="#f0434b" stroke-width="1.5" fill="none"/>
<line x1="625.5" y1="80.2" x2="625.5" y2="74.8" stroke="#f0434b" stroke-width="1.3" />
<line x1="619.5" y1="74.8" x2="631.5" y2="74.8" stroke="#f0434b" stroke-width="1.3" />
<text x="591.5" y="135.6" font-size="12.8" text-anchor="middle">R90</text>
<text x="625.5" y="135.6" font-size="12.8" text-anchor="middle">90H</text>
<text x="530.6" y="79.5" font-size="12.6" text-anchor="middle" transform="rotate(-90 530.6 79.5)">% Ly6G<tspan font-size="9.5" dy="-5">+</tspan><tspan dy="5"> Ly6C</tspan><tspan font-size="9.5" dy="-5">int</tspan></text>
<text x="547.6" y="79.5" font-size="12.6" text-anchor="middle" transform="rotate(-90 547.6 79.5)">in Live CD11b<tspan font-size="9.5" dy="-5">+</tspan></text>
<text x="613.2" y="36.5" font-size="11.4" text-anchor="middle"><tspan font-style="italic">P</tspan> = 0.0280</text>
<polyline points="591.6,82 591.6,40.4 625.6,40.4 625.6,47" stroke="#222" stroke-width="1.3" fill="none"/>
<line x1="568" y1="121" x2="648" y2="121" stroke="#222" stroke-width="1.2" />
<line x1="56" y1="238.8" x2="56" y2="347.8" stroke="#9a9a9a" stroke-width="1.4" />
<line x1="53" y1="347.3" x2="56" y2="347.3" stroke="#333" stroke-width="1.2" />
<text x="52.5" y="351.9" font-size="12.8" text-anchor="end">0</text>
<line x1="53" y1="311.3" x2="56" y2="311.3" stroke="#333" stroke-width="1.2" />
<text x="52.5" y="315.9" font-size="12.8" text-anchor="end">10</text>
<line x1="53" y1="275.3" x2="56" y2="275.3" stroke="#333" stroke-width="1.2" />
<text x="52.5" y="279.9" font-size="12.8" text-anchor="end">20</text>
<line x1="53" y1="239.3" x2="56" y2="239.3" stroke="#333" stroke-width="1.2" />
<text x="52.5" y="243.9" font-size="12.8" text-anchor="end">30</text>
<line x1="56" y1="347.3" x2="162.9" y2="347.3" stroke="#9a9a9a" stroke-width="1.4" />
<line x1="56" y1="347.3" x2="56" y2="350.3" stroke="#333" stroke-width="1.1" />
<text x="56" y="362" font-size="12.8" text-anchor="middle">0</text>
<line x1="71.2" y1="347.3" x2="71.2" y2="350.3" stroke="#333" stroke-width="1.1" />
<text x="71.2" y="362" font-size="12.8" text-anchor="middle">1</text>
<line x1="86.4" y1="347.3" x2="86.4" y2="350.3" stroke="#333" stroke-width="1.1" />
<text x="86.4" y="362" font-size="12.8" text-anchor="middle">2</text>
<line x1="101.6" y1="347.3" x2="101.6" y2="350.3" stroke="#333" stroke-width="1.1" />
<text x="101.6" y="362" font-size="12.8" text-anchor="middle">3</text>
<line x1="116.8" y1="347.3" x2="116.8" y2="350.3" stroke="#333" stroke-width="1.1" />
<text x="116.8" y="362" font-size="12.8" text-anchor="middle">4</text>
<line x1="132" y1="347.3" x2="132" y2="350.3" stroke="#333" stroke-width="1.1" />
<text x="132" y="362" font-size="12.8" text-anchor="middle">5</text>
<line x1="147.2" y1="347.3" x2="147.2" y2="350.3" stroke="#333" stroke-width="1.1" />
<text x="147.2" y="362" font-size="12.8" text-anchor="middle">6</text>
<line x1="162.4" y1="347.3" x2="162.4" y2="350.3" stroke="#333" stroke-width="1.1" />
<text x="162.4" y="362" font-size="12.8" text-anchor="middle">7</text>
<text x="110.7" y="380.3" font-size="12.8" text-anchor="middle">Post-injection [m]</text>
<text x="19" y="290" font-size="12.8" text-anchor="middle" transform="rotate(-90 19 290)">Mean arthritis scores</text>
<text x="33.6" y="290" font-size="12.8" text-anchor="middle" transform="rotate(-90 33.6 290)">(0~60)</text>
<text x="122" y="219" font-size="12.8" text-anchor="middle">Female</text>
<polyline points="56,347.3 71.2,347.3 86.4,347.3 101.6,347.3 116.8,336.5 132,333.98 147.2,329.3 162.4,317.78" stroke="#f0434b" stroke-width="1.2" fill="none"/>
<line x1="116.8" y1="336.5" x2="116.8" y2="334.34" stroke="#f0434b" stroke-width="1.1" />
<line x1="114.2" y1="334.34" x2="119.4" y2="334.34" stroke="#f0434b" stroke-width="1.1" />
<line x1="132" y1="333.98" x2="132" y2="331.82" stroke="#f0434b" stroke-width="1.1" />
<line x1="129.4" y1="331.82" x2="134.6" y2="331.82" stroke="#f0434b" stroke-width="1.1" />
<line x1="147.2" y1="329.3" x2="147.2" y2="325.7" stroke="#f0434b" stroke-width="1.1" />
<line x1="144.6" y1="325.7" x2="149.8" y2="325.7" stroke="#f0434b" stroke-width="1.1" />
<line x1="162.4" y1="317.78" x2="162.4" y2="303.74" stroke="#f0434b" stroke-width="1.1" />
<line x1="159.8" y1="303.74" x2="165" y2="303.74" stroke="#f0434b" stroke-width="1.1" />
<rect x="53.85" y="345.15" width="4.3" height="4.3" stroke="#f0434b" stroke-width="1.1" fill="none"/>
<rect x="69.05" y="345.15" width="4.3" height="4.3" stroke="#f0434b" stroke-width="1.1" fill="none"/>
<rect x="84.25" y="345.15" width="4.3" height="4.3" stroke="#f0434b" stroke-width="1.1" fill="none"/>
<rect x="99.45" y="345.15" width="4.3" height="4.3" stroke="#f0434b" stroke-width="1.1" fill="none"/>
<rect x="114.65" y="334.35" width="4.3" height="4.3" stroke="#f0434b" stroke-width="1.1" fill="none"/>
<rect x="129.85" y="331.83" width="4.3" height="4.3" stroke="#f0434b" stroke-width="1.1" fill="none"/>
<rect x="145.05" y="327.15" width="4.3" height="4.3" stroke="#f0434b" stroke-width="1.1" fill="none"/>
<rect x="160.25" y="315.63" width="4.3" height="4.3" stroke="#f0434b" stroke-width="1.1" fill="none"/>
<polyline points="56,347.3 71.2,347.3 86.4,347.3 101.6,333.62 116.8,317.78 132,288.26 147.2,278.18 162.4,260.9" stroke="#f0434b" stroke-width="1.2" fill="none"/>
<line x1="101.6" y1="333.62" x2="101.6" y2="326.42" stroke="#f0434b" stroke-width="1.1" />
<line x1="99" y1="326.42" x2="104.2" y2="326.42" stroke="#f0434b" stroke-width="1.1" />
<line x1="116.8" y1="317.78" x2="116.8" y2="309.5" stroke="#f0434b" stroke-width="1.1" />
<line x1="114.2" y1="309.5" x2="119.4" y2="309.5" stroke="#f0434b" stroke-width="1.1" />
<line x1="132" y1="288.26" x2="132" y2="271.7" stroke="#f0434b" stroke-width="1.1" />
<line x1="129.4" y1="271.7" x2="134.6" y2="271.7" stroke="#f0434b" stroke-width="1.1" />
<line x1="147.2" y1="278.18" x2="147.2" y2="259.82" stroke="#f0434b" stroke-width="1.1" />
<line x1="144.6" y1="259.82" x2="149.8" y2="259.82" stroke="#f0434b" stroke-width="1.1" />
<line x1="162.4" y1="260.9" x2="162.4" y2="241.1" stroke="#f0434b" stroke-width="1.1" />
<line x1="159.8" y1="241.1" x2="165" y2="241.1" stroke="#f0434b" stroke-width="1.1" />
<rect x="53.2" y="344.5" width="5.6" height="5.6" stroke="none" stroke-width="1" fill="#f0434b"/>
<rect x="68.4" y="344.5" width="5.6" height="5.6" stroke="none" stroke-width="1" fill="#f0434b"/>
<rect x="83.6" y="344.5" width="5.6" height="5.6" stroke="none" stroke-width="1" fill="#f0434b"/>
<rect x="98.8" y="330.82" width="5.6" height="5.6" stroke="none" stroke-width="1" fill="#f0434b"/>
<rect x="114" y="314.98" width="5.6" height="5.6" stroke="none" stroke-width="1" fill="#f0434b"/>
<rect x="129.2" y="285.46" width="5.6" height="5.6" stroke="none" stroke-width="1" fill="#f0434b"/>
<rect x="144.4" y="275.38" width="5.6" height="5.6" stroke="none" stroke-width="1" fill="#f0434b"/>
<rect x="159.6" y="258.1" width="5.6" height="5.6" stroke="none" stroke-width="1" fill="#f0434b"/>
<polyline points="56,347.3 71.2,347.3 86.4,347.3 101.6,347.3 116.8,332.9 132,328.94 147.2,324.62 162.4,327.14" stroke="#4aa7b2" stroke-width="1.2" fill="none"/>
<line x1="116.8" y1="332.9" x2="116.8" y2="330.74" stroke="#4aa7b2" stroke-width="1.1" />
<line x1="114.2" y1="330.74" x2="119.4" y2="330.74" stroke="#4aa7b2" stroke-width="1.1" />
<line x1="132" y1="328.94" x2="132" y2="326.06" stroke="#4aa7b2" stroke-width="1.1" />
<line x1="129.4" y1="326.06" x2="134.6" y2="326.06" stroke="#4aa7b2" stroke-width="1.1" />
<line x1="147.2" y1="324.62" x2="147.2" y2="319.58" stroke="#4aa7b2" stroke-width="1.1" />
<line x1="144.6" y1="319.58" x2="149.8" y2="319.58" stroke="#4aa7b2" stroke-width="1.1" />
<line x1="162.4" y1="327.14" x2="162.4" y2="323.54" stroke="#4aa7b2" stroke-width="1.1" />
<line x1="159.8" y1="323.54" x2="165" y2="323.54" stroke="#4aa7b2" stroke-width="1.1" />
<circle cx="56" cy="347.3" r="2.15" fill="none" stroke="#4aa7b2" stroke-width="1.1"/>
<circle cx="71.2" cy="347.3" r="2.15" fill="none" stroke="#4aa7b2" stroke-width="1.1"/>
<circle cx="86.4" cy="347.3" r="2.15" fill="none" stroke="#4aa7b2" stroke-width="1.1"/>
<circle cx="101.6" cy="347.3" r="2.15" fill="none" stroke="#4aa7b2" stroke-width="1.1"/>
<circle cx="116.8" cy="332.9" r="2.15" fill="none" stroke="#4aa7b2" stroke-width="1.1"/>
<circle cx="132" cy="328.94" r="2.15" fill="none" stroke="#4aa7b2" stroke-width="1.1"/>
<circle cx="147.2" cy="324.62" r="2.15" fill="none" stroke="#4aa7b2" stroke-width="1.1"/>
<circle cx="162.4" cy="327.14" r="2.15" fill="none" stroke="#4aa7b2" stroke-width="1.1"/>
<polyline points="56,347.3 71.2,347.3 86.4,347.3 101.6,347.3 116.8,344.78 132,328.58 147.2,319.58 162.4,320.66" stroke="#4aa7b2" stroke-width="1.2" fill="none"/>
<line x1="132" y1="328.58" x2="132" y2="320.66" stroke="#4aa7b2" stroke-width="1.1" />
<line x1="129.4" y1="320.66" x2="134.6" y2="320.66" stroke="#4aa7b2" stroke-width="1.1" />
<line x1="147.2" y1="319.58" x2="147.2" y2="308.78" stroke="#4aa7b2" stroke-width="1.1" />
<line x1="144.6" y1="308.78" x2="149.8" y2="308.78" stroke="#4aa7b2" stroke-width="1.1" />
<line x1="162.4" y1="320.66" x2="162.4" y2="309.14" stroke="#4aa7b2" stroke-width="1.1" />
<line x1="159.8" y1="309.14" x2="165" y2="309.14" stroke="#4aa7b2" stroke-width="1.1" />
<circle cx="56" cy="347.3" r="2.8" fill="#4aa7b2" stroke="none" stroke-width="1"/>
<circle cx="71.2" cy="347.3" r="2.8" fill="#4aa7b2" stroke="none" stroke-width="1"/>
<circle cx="86.4" cy="347.3" r="2.8" fill="#4aa7b2" stroke="none" stroke-width="1"/>
<circle cx="101.6" cy="347.3" r="2.8" fill="#4aa7b2" stroke="none" stroke-width="1"/>
<circle cx="116.8" cy="344.78" r="2.8" fill="#4aa7b2" stroke="none" stroke-width="1"/>
<circle cx="132" cy="328.58" r="2.8" fill="#4aa7b2" stroke="none" stroke-width="1"/>
<circle cx="147.2" cy="319.58" r="2.8" fill="#4aa7b2" stroke="none" stroke-width="1"/>
<circle cx="162.4" cy="320.66" r="2.8" fill="#4aa7b2" stroke="none" stroke-width="1"/>
<text x="127.8" y="292.4" font-size="9.35" text-anchor="end"><tspan font-style="italic">P</tspan> = 0.0248</text>
<text x="178.4" y="236" font-size="9.35" text-anchor="end"><tspan font-style="italic">P</tspan> = 0.0177</text>
<line x1="175" y1="262.4" x2="183" y2="262.4" stroke="#f0434b" stroke-width="1.1" />
<rect x="176.7" y="260.1" width="4.6" height="4.6" stroke="none" stroke-width="1" fill="#f0434b"/>
<text x="187.9" y="265.7" font-size="9.6">MNV-90H</text>
<line x1="171.3" y1="313.5" x2="179.3" y2="313.5" stroke="#f0434b" stroke-width="1.1" />
<rect x="173.5" y="311.7" width="3.6" height="3.6" stroke="#f0434b" stroke-width="1" fill="none"/>
<text x="184.2" y="316.8" font-size="9.6">90H</text>
<line x1="171.3" y1="329" x2="179.3" y2="329" stroke="#4aa7b2" stroke-width="1.1" />
<circle cx="175.3" cy="329" r="2.3" fill="#4aa7b2" stroke="none" stroke-width="1"/>
<text x="184.2" y="332.3" font-size="9.6">MNV-R90</text>
<line x1="171.3" y1="342.9" x2="179.3" y2="342.9" stroke="#4aa7b2" stroke-width="1.1" />
<circle cx="175.3" cy="342.9" r="1.8" fill="none" stroke="#4aa7b2" stroke-width="1"/>
<text x="184.2" y="346.2" font-size="9.6">R90</text>
<line x1="57.6" y1="464" x2="57.6" y2="569.1" stroke="#9a9a9a" stroke-width="1.4" />
<line x1="54.6" y1="568.6" x2="57.6" y2="568.6" stroke="#333" stroke-width="1.2" />
<text x="54.1" y="573.2" font-size="12.8" text-anchor="end">0</text>
<line x1="54.6" y1="533.9" x2="57.6" y2="533.9" stroke="#333" stroke-width="1.2" />
<text x="54.1" y="538.5" font-size="12.8" text-anchor="end">10</text>
<line x1="54.6" y1="499.2" x2="57.6" y2="499.2" stroke="#333" stroke-width="1.2" />
<text x="54.1" y="503.8" font-size="12.8" text-anchor="end">20</text>
<line x1="54.6" y1="464.5" x2="57.6" y2="464.5" stroke="#333" stroke-width="1.2" />
<text x="54.1" y="469.1" font-size="12.8" text-anchor="end">30</text>
<line x1="57.6" y1="568.6" x2="162.89" y2="568.6" stroke="#9a9a9a" stroke-width="1.4" />
<line x1="57.6" y1="568.6" x2="57.6" y2="571.6" stroke="#333" stroke-width="1.1" />
<text x="57.6" y="583.8" font-size="12.8" text-anchor="middle">0</text>
<line x1="72.57" y1="568.6" x2="72.57" y2="571.6" stroke="#333" stroke-width="1.1" />
<text x="72.57" y="583.8" font-size="12.8" text-anchor="middle">1</text>
<line x1="87.54" y1="568.6" x2="87.54" y2="571.6" stroke="#333" stroke-width="1.1" />
<text x="87.54" y="583.8" font-size="12.8" text-anchor="middle">2</text>
<line x1="102.51" y1="568.6" x2="102.51" y2="571.6" stroke="#333" stroke-width="1.1" />
<text x="102.51" y="583.8" font-size="12.8" text-anchor="middle">3</text>
<line x1="117.48" y1="568.6" x2="117.48" y2="571.6" stroke="#333" stroke-width="1.1" />
<text x="117.48" y="583.8" font-size="12.8" text-anchor="middle">4</text>
<line x1="132.45" y1="568.6" x2="132.45" y2="571.6" stroke="#333" stroke-width="1.1" />
<text x="132.45" y="583.8" font-size="12.8" text-anchor="middle">5</text>
<line x1="147.42" y1="568.6" x2="147.42" y2="571.6" stroke="#333" stroke-width="1.1" />
<text x="147.42" y="583.8" font-size="12.8" text-anchor="middle">6</text>
<line x1="162.39" y1="568.6" x2="162.39" y2="571.6" stroke="#333" stroke-width="1.1" />
<text x="162.39" y="583.8" font-size="12.8" text-anchor="middle">7</text>
<text x="111.5" y="602" font-size="12.8" text-anchor="middle">Post-injection [m]</text>
<text x="19" y="519.3" font-size="12.8" text-anchor="middle" transform="rotate(-90 19 519.3)">Mean arthritis scores</text>
<text x="33.6" y="519.3" font-size="12.8" text-anchor="middle" transform="rotate(-90 33.6 519.3)">(0~60)</text>
<text x="120" y="447" font-size="12.8" text-anchor="middle">Male</text>
<polyline points="72.57,568.6 87.54,568.6 102.51,568.6 117.48,550.9 132.45,551.25 147.42,550.9 162.39,542.23" stroke="#f0434b" stroke-width="1.2" fill="none"/>
<line x1="117.48" y1="550.9" x2="117.48" y2="546.74" stroke="#f0434b" stroke-width="1.1" />
<line x1="114.88" y1="546.74" x2="120.08" y2="546.74" stroke="#f0434b" stroke-width="1.1" />
<line x1="132.45" y1="551.25" x2="132.45" y2="547.43" stroke="#f0434b" stroke-width="1.1" />
<line x1="129.85" y1="547.43" x2="135.05" y2="547.43" stroke="#f0434b" stroke-width="1.1" />
<line x1="147.42" y1="550.9" x2="147.42" y2="544.66" stroke="#f0434b" stroke-width="1.1" />
<line x1="144.82" y1="544.66" x2="150.02" y2="544.66" stroke="#f0434b" stroke-width="1.1" />
<line x1="162.39" y1="542.23" x2="162.39" y2="532.51" stroke="#f0434b" stroke-width="1.1" />
<line x1="159.79" y1="532.51" x2="164.99" y2="532.51" stroke="#f0434b" stroke-width="1.1" />
<rect x="70.42" y="566.45" width="4.3" height="4.3" stroke="#f0434b" stroke-width="1.1" fill="none"/>
<rect x="85.39" y="566.45" width="4.3" height="4.3" stroke="#f0434b" stroke-width="1.1" fill="none"/>
<rect x="100.36" y="566.45" width="4.3" height="4.3" stroke="#f0434b" stroke-width="1.1" fill="none"/>
<rect x="115.33" y="548.75" width="4.3" height="4.3" stroke="#f0434b" stroke-width="1.1" fill="none"/>
<rect x="130.3" y="549.1" width="4.3" height="4.3" stroke="#f0434b" stroke-width="1.1" fill="none"/>
<rect x="145.27" y="548.75" width="4.3" height="4.3" stroke="#f0434b" stroke-width="1.1" fill="none"/>
<rect x="160.24" y="540.08" width="4.3" height="4.3" stroke="#f0434b" stroke-width="1.1" fill="none"/>
<polyline points="72.57,568.6 87.54,568.6 102.51,562.01 117.48,534.94 132.45,513.77 147.42,493.65 162.39,486.36" stroke="#f0434b" stroke-width="1.2" fill="none"/>
<line x1="102.51" y1="562.01" x2="102.51" y2="559.93" stroke="#f0434b" stroke-width="1.1" />
<line x1="99.91" y1="559.93" x2="105.11" y2="559.93" stroke="#f0434b" stroke-width="1.1" />
<line x1="117.48" y1="534.94" x2="117.48" y2="525.57" stroke="#f0434b" stroke-width="1.1" />
<line x1="114.88" y1="525.57" x2="120.08" y2="525.57" stroke="#f0434b" stroke-width="1.1" />
<line x1="132.45" y1="513.77" x2="132.45" y2="495.38" stroke="#f0434b" stroke-width="1.1" />
<line x1="129.85" y1="495.38" x2="135.05" y2="495.38" stroke="#f0434b" stroke-width="1.1" />
<line x1="147.42" y1="493.65" x2="147.42" y2="476.99" stroke="#f0434b" stroke-width="1.1" />
<line x1="144.82" y1="476.99" x2="150.02" y2="476.99" stroke="#f0434b" stroke-width="1.1" />
<line x1="162.39" y1="486.36" x2="162.39" y2="472.48" stroke="#f0434b" stroke-width="1.1" />
<line x1="159.79" y1="472.48" x2="164.99" y2="472.48" stroke="#f0434b" stroke-width="1.1" />
<rect x="69.77" y="565.8" width="5.6" height="5.6" stroke="none" stroke-width="1" fill="#f0434b"/>
<rect x="84.74" y="565.8" width="5.6" height="5.6" stroke="none" stroke-width="1" fill="#f0434b"/>
<rect x="99.71" y="559.21" width="5.6" height="5.6" stroke="none" stroke-width="1" fill="#f0434b"/>
<rect x="114.68" y="532.14" width="5.6" height="5.6" stroke="none" stroke-width="1" fill="#f0434b"/>
<rect x="129.65" y="510.97" width="5.6" height="5.6" stroke="none" stroke-width="1" fill="#f0434b"/>
<rect x="144.62" y="490.85" width="5.6" height="5.6" stroke="none" stroke-width="1" fill="#f0434b"/>
<rect x="159.59" y="483.56" width="5.6" height="5.6" stroke="none" stroke-width="1" fill="#f0434b"/>
<polyline points="72.57,568.6 87.54,568.6 102.51,568.6 117.48,568.6 132.45,568.6 147.42,559.58 162.39,557.5" stroke="#4aa7b2" stroke-width="1.2" fill="none"/>
<line x1="147.42" y1="559.58" x2="147.42" y2="557.84" stroke="#4aa7b2" stroke-width="1.1" />
<line x1="144.82" y1="557.84" x2="150.02" y2="557.84" stroke="#4aa7b2" stroke-width="1.1" />
<line x1="162.39" y1="557.5" x2="162.39" y2="555.41" stroke="#4aa7b2" stroke-width="1.1" />
<line x1="159.79" y1="555.41" x2="164.99" y2="555.41" stroke="#4aa7b2" stroke-width="1.1" />
<circle cx="72.57" cy="568.6" r="2.15" fill="none" stroke="#4aa7b2" stroke-width="1.1"/>
<circle cx="87.54" cy="568.6" r="2.15" fill="none" stroke="#4aa7b2" stroke-width="1.1"/>
<circle cx="102.51" cy="568.6" r="2.15" fill="none" stroke="#4aa7b2" stroke-width="1.1"/>
<circle cx="117.48" cy="568.6" r="2.15" fill="none" stroke="#4aa7b2" stroke-width="1.1"/>
<circle cx="132.45" cy="568.6" r="2.15" fill="none" stroke="#4aa7b2" stroke-width="1.1"/>
<circle cx="147.42" cy="559.58" r="2.15" fill="none" stroke="#4aa7b2" stroke-width="1.1"/>
<circle cx="162.39" cy="557.5" r="2.15" fill="none" stroke="#4aa7b2" stroke-width="1.1"/>
<polyline points="72.57,568.6 87.54,568.6 102.51,568.6 117.48,568.6 132.45,559.4 147.42,557.5 162.39,543.62" stroke="#4aa7b2" stroke-width="1.2" fill="none"/>
<line x1="132.45" y1="559.4" x2="132.45" y2="557.67" stroke="#4aa7b2" stroke-width="1.1" />
<line x1="129.85" y1="557.67" x2="135.05" y2="557.67" stroke="#4aa7b2" stroke-width="1.1" />
<line x1="147.42" y1="557.5" x2="147.42" y2="554.72" stroke="#4aa7b2" stroke-width="1.1" />
<line x1="144.82" y1="554.72" x2="150.02" y2="554.72" stroke="#4aa7b2" stroke-width="1.1" />
<line x1="162.39" y1="543.62" x2="162.39" y2="523.49" stroke="#4aa7b2" stroke-width="1.1" />
<line x1="159.79" y1="523.49" x2="164.99" y2="523.49" stroke="#4aa7b2" stroke-width="1.1" />
<circle cx="72.57" cy="568.6" r="2.8" fill="#4aa7b2" stroke="none" stroke-width="1"/>
<circle cx="87.54" cy="568.6" r="2.8" fill="#4aa7b2" stroke="none" stroke-width="1"/>
<circle cx="102.51" cy="568.6" r="2.8" fill="#4aa7b2" stroke="none" stroke-width="1"/>
<circle cx="117.48" cy="568.6" r="2.8" fill="#4aa7b2" stroke="none" stroke-width="1"/>
<circle cx="132.45" cy="559.4" r="2.8" fill="#4aa7b2" stroke="none" stroke-width="1"/>
<circle cx="147.42" cy="557.5" r="2.8" fill="#4aa7b2" stroke="none" stroke-width="1"/>
<circle cx="162.39" cy="543.62" r="2.8" fill="#4aa7b2" stroke="none" stroke-width="1"/>
<text x="129.5" y="498.4" font-size="9.35" text-anchor="end"><tspan font-style="italic">P</tspan> = 0.0006</text>
<text x="145" y="483.4" font-size="9.35" text-anchor="end"><tspan font-style="italic">P</tspan> = 0.0192</text>
<text x="166.4" y="470" font-size="9.35" text-anchor="end"><tspan font-style="italic">P</tspan> = 0.0047</text>
<text x="185" y="458" font-size="9.35" text-anchor="end"><tspan font-style="italic">P</tspan> = 0.0344</text>
<line x1="174.6" y1="485.3" x2="182.6" y2="485.3" stroke="#f0434b" stroke-width="1.1" />
<rect x="176.3" y="483" width="4.6" height="4.6" stroke="none" stroke-width="1" fill="#f0434b"/>
<text x="187.7" y="488.6" font-size="9.6">MNV-90H</text>
<line x1="174.3" y1="540.7" x2="182.3" y2="540.7" stroke="#f0434b" stroke-width="1.1" />
<rect x="176.5" y="538.9" width="3.6" height="3.6" stroke="#f0434b" stroke-width="1" fill="none"/>
<text x="187.7" y="544" font-size="9.6">90H</text>
<line x1="174.3" y1="551.5" x2="182.3" y2="551.5" stroke="#4aa7b2" stroke-width="1.1" />
<circle cx="178.3" cy="551.5" r="2.3" fill="#4aa7b2" stroke="none" stroke-width="1"/>
<text x="187.7" y="554.8" font-size="9.6">MNV-R90</text>
<line x1="174.3" y1="562.2" x2="182.3" y2="562.2" stroke="#4aa7b2" stroke-width="1.1" />
<circle cx="178.3" cy="562.2" r="1.8" fill="none" stroke="#4aa7b2" stroke-width="1"/>
<text x="187.7" y="565.5" font-size="9.6">R90</text>
<line x1="285" y1="238.5" x2="285" y2="338.9" stroke="#222" stroke-width="1.3" />
<line x1="281.8" y1="338.4" x2="285" y2="338.4" stroke="#333" stroke-width="1.2" />
<text x="281.5" y="342.9" font-size="12.3" text-anchor="end">0.0</text>
<line x1="281.8" y1="313.55" x2="285" y2="313.55" stroke="#333" stroke-width="1.2" />
<text x="281.5" y="318.05" font-size="12.3" text-anchor="end">0.2</text>
<line x1="281.8" y1="288.7" x2="285" y2="288.7" stroke="#333" stroke-width="1.2" />
<text x="281.5" y="293.2" font-size="12.3" text-anchor="end">0.4</text>
<line x1="281.8" y1="263.85" x2="285" y2="263.85" stroke="#333" stroke-width="1.2" />
<text x="281.5" y="268.35" font-size="12.3" text-anchor="end">0.6</text>
<line x1="281.8" y1="239" x2="285" y2="239" stroke="#333" stroke-width="1.2" />
<text x="281.5" y="243.5" font-size="12.3" text-anchor="end">0.8</text>
<line x1="285" y1="338.4" x2="429" y2="338.4" stroke="#222" stroke-width="1.3" />
<line x1="307.5" y1="338.4" x2="307.5" y2="341.9" stroke="#222" stroke-width="1.1" />
<circle cx="307.4" cy="262.9" r="2.75" fill="none" stroke="#4aa7b2" stroke-width="1.1"/>
<circle cx="299.4" cy="286.4" r="2.75" fill="none" stroke="#4aa7b2" stroke-width="1.1"/>
<circle cx="307.4" cy="291" r="2.75" fill="none" stroke="#4aa7b2" stroke-width="1.1"/>
<circle cx="315.4" cy="289.6" r="2.75" fill="none" stroke="#4aa7b2" stroke-width="1.1"/>
<circle cx="307.4" cy="310.6" r="2.75" fill="none" stroke="#4aa7b2" stroke-width="1.1"/>
<circle cx="303.4" cy="323.4" r="2.75" fill="none" stroke="#4aa7b2" stroke-width="1.1"/>
<circle cx="311.4" cy="320.4" r="2.75" fill="none" stroke="#4aa7b2" stroke-width="1.1"/>
<rect x="296.9" y="298.39" width="21.2" height="40.01" stroke="#4aa7b2" stroke-width="1.5" fill="none"/>
<line x1="307.5" y1="298.39" x2="307.5" y2="289.94" stroke="#4aa7b2" stroke-width="1.3" />
<line x1="302" y1="289.94" x2="313" y2="289.94" stroke="#4aa7b2" stroke-width="1.3" />
<line x1="340.4" y1="338.4" x2="340.4" y2="341.9" stroke="#222" stroke-width="1.1" />
<rect x="329.45" y="261.45" width="5.5" height="5.5" stroke="#f07c81" stroke-width="1.1" fill="none"/>
<rect x="345.65" y="261.45" width="5.5" height="5.5" stroke="#f07c81" stroke-width="1.1" fill="none"/>
<rect x="337.05" y="271.85" width="5.5" height="5.5" stroke="#f07c81" stroke-width="1.1" fill="none"/>
<rect x="337.05" y="291.45" width="5.5" height="5.5" stroke="#f07c81" stroke-width="1.1" fill="none"/>
<rect x="329.65" y="305.65" width="5.5" height="5.5" stroke="#f07c81" stroke-width="1.1" fill="none"/>
<rect x="345.05" y="301.75" width="5.5" height="5.5" stroke="#f07c81" stroke-width="1.1" fill="none"/>
<rect x="329.8" y="286.21" width="21.2" height="52.19" stroke="#f0434b" stroke-width="1.5" fill="none"/>
<line x1="340.4" y1="286.21" x2="340.4" y2="277.52" stroke="#f0434b" stroke-width="1.3" />
<line x1="334.9" y1="277.52" x2="345.9" y2="277.52" stroke="#f0434b" stroke-width="1.3" />
<line x1="373.3" y1="338.4" x2="373.3" y2="341.9" stroke="#222" stroke-width="1.1" />
<circle cx="373.4" cy="281" r="3.3" fill="#3b8e98" stroke="none" stroke-width="1"/>
<circle cx="365" cy="287.6" r="3.3" fill="#3b8e98" stroke="none" stroke-width="1"/>
<circle cx="373.4" cy="289.4" r="3.3" fill="#3b8e98" stroke="none" stroke-width="1"/>
<circle cx="381.4" cy="288" r="3.3" fill="#3b8e98" stroke="none" stroke-width="1"/>
<circle cx="365" cy="297.6" r="3.3" fill="#3b8e98" stroke="none" stroke-width="1"/>
<circle cx="377.4" cy="298.4" r="3.3" fill="#3b8e98" stroke="none" stroke-width="1"/>
<circle cx="370" cy="297.4" r="3.3" fill="#3b8e98" stroke="none" stroke-width="1"/>
<circle cx="373.4" cy="312" r="3.3" fill="#3b8e98" stroke="none" stroke-width="1"/>
<circle cx="369" cy="323" r="3.3" fill="#3b8e98" stroke="none" stroke-width="1"/>
<circle cx="377.4" cy="320" r="3.3" fill="#3b8e98" stroke="none" stroke-width="1"/>
<rect x="362.7" y="300.01" width="21.2" height="38.39" stroke="#3b8e98" stroke-width="1.5" fill="none"/>
<line x1="373.3" y1="300.01" x2="373.3" y2="294.91" stroke="#3b8e98" stroke-width="1.3" />
<line x1="367.8" y1="294.91" x2="378.8" y2="294.91" stroke="#3b8e98" stroke-width="1.3" />
<line x1="406.2" y1="338.4" x2="406.2" y2="341.9" stroke="#222" stroke-width="1.1" />
<rect x="394.4" y="265.5" width="6.6" height="6.6" stroke="none" stroke-width="1" fill="#f0434b"/>
<rect x="397.9" y="267.7" width="6.6" height="6.6" stroke="none" stroke-width="1" fill="#f0434b"/>
<rect x="402.2" y="269" width="6.6" height="6.6" stroke="none" stroke-width="1" fill="#f0434b"/>
<rect x="405.3" y="266.4" width="6.6" height="6.6" stroke="none" stroke-width="1" fill="#f0434b"/>
<rect x="409.2" y="266.4" width="6.6" height="6.6" stroke="none" stroke-width="1" fill="#f0434b"/>
<rect x="411.9" y="267.3" width="6.6" height="6.6" stroke="none" stroke-width="1" fill="#f0434b"/>
<rect x="404.4" y="273" width="6.6" height="6.6" stroke="none" stroke-width="1" fill="#f0434b"/>
<rect x="400.9" y="282.2" width="6.6" height="6.6" stroke="none" stroke-width="1" fill="#f0434b"/>
<rect x="404.4" y="285.2" width="6.6" height="6.6" stroke="none" stroke-width="1" fill="#f0434b"/>
<rect x="402.7" y="292.7" width="6.6" height="6.6" stroke="none" stroke-width="1" fill="#f0434b"/>
<rect x="395.6" y="278.01" width="21.2" height="60.39" stroke="#f0434b" stroke-width="1.5" fill="none"/>
<line x1="406.2" y1="278.01" x2="406.2" y2="274.41" stroke="#f0434b" stroke-width="1.3" />
<line x1="400.7" y1="274.41" x2="411.7" y2="274.41" stroke="#f0434b" stroke-width="1.3" />
<text x="310.5" y="353.4" font-size="12.2" text-anchor="end" transform="rotate(-30 310.5 353.4)">Pristane-R90</text>
<text x="343.4" y="353.4" font-size="12.2" text-anchor="end" transform="rotate(-30 343.4 353.4)">Pristane-90H</text>
<text x="376.3" y="353.4" font-size="12.2" text-anchor="end" transform="rotate(-30 376.3 353.4)">MNV-Pristane-R90</text>
<text x="409.2" y="353.4" font-size="12.2" text-anchor="end" transform="rotate(-30 409.2 353.4)">MNV-Pristane-90H</text>
<text x="352.2" y="217.4" font-size="12.2" text-anchor="middle">Female</text>
<text x="325.2" y="241.4" font-size="11.1" text-anchor="middle"><tspan font-style="italic">P</tspan> = 0.4213</text>
<text x="388.6" y="246" font-size="11.1" text-anchor="middle"><tspan font-style="italic">P</tspan> = 0.0011</text>
<polyline points="308.4,254.6 308.4,247 341.6,247 341.6,254.6" stroke="#222" stroke-width="1.3" fill="none"/>
<polyline points="374,274.5 374,255 406.3,255 406.3,262.7" stroke="#222" stroke-width="1.3" fill="none"/>
<line x1="285" y1="338.4" x2="429" y2="338.4" stroke="#222" stroke-width="1.3" />
<text x="250.2" y="286" font-size="12.4" text-anchor="middle" transform="rotate(-90 250.2 286)">Anti-dsDNA (OD<tspan font-size="9" dy="3">450nm</tspan><tspan dy="-3">)</tspan></text>
<line x1="290" y1="461.9" x2="290" y2="563.1" stroke="#222" stroke-width="1.3" />
<line x1="286.8" y1="562.6" x2="290" y2="562.6" stroke="#333" stroke-width="1.2" />
<text x="286.5" y="567.1" font-size="12.3" text-anchor="end">0.0</text>
<line x1="286.8" y1="529.2" x2="290" y2="529.2" stroke="#333" stroke-width="1.2" />
<text x="286.5" y="533.7" font-size="12.3" text-anchor="end">0.2</text>
<line x1="286.8" y1="495.8" x2="290" y2="495.8" stroke="#333" stroke-width="1.2" />
<text x="286.5" y="500.3" font-size="12.3" text-anchor="end">0.4</text>
<line x1="286.8" y1="462.4" x2="290" y2="462.4" stroke="#333" stroke-width="1.2" />
<text x="286.5" y="466.9" font-size="12.3" text-anchor="end">0.6</text>
<line x1="290" y1="562.6" x2="433.6" y2="562.6" stroke="#222" stroke-width="1.3" />
<line x1="312.6" y1="562.6" x2="312.6" y2="566.1" stroke="#222" stroke-width="1.1" />
<circle cx="304.1" cy="530" r="2.75" fill="none" stroke="#4aa7b2" stroke-width="1.1"/>
<circle cx="312.2" cy="528.5" r="2.75" fill="none" stroke="#4aa7b2" stroke-width="1.1"/>
<circle cx="313.8" cy="534.9" r="2.75" fill="none" stroke="#4aa7b2" stroke-width="1.1"/>
<circle cx="305.4" cy="538.7" r="2.75" fill="none" stroke="#4aa7b2" stroke-width="1.1"/>
<circle cx="321.2" cy="538.7" r="2.75" fill="none" stroke="#4aa7b2" stroke-width="1.1"/>
<circle cx="306.1" cy="547.7" r="2.75" fill="none" stroke="#4aa7b2" stroke-width="1.1"/>
<circle cx="316.3" cy="547.7" r="2.75" fill="none" stroke="#4aa7b2" stroke-width="1.1"/>
<rect x="301.8" y="537.38" width="21.6" height="25.22" stroke="#4aa7b2" stroke-width="1.5" fill="none"/>
<line x1="312.6" y1="537.38" x2="312.6" y2="533.88" stroke="#4aa7b2" stroke-width="1.3" />
<line x1="307.1" y1="533.88" x2="318.1" y2="533.88" stroke="#4aa7b2" stroke-width="1.3" />
<line x1="345.4" y1="562.6" x2="345.4" y2="566.1" stroke="#222" stroke-width="1.1" />
<rect x="334.85" y="473.85" width="5.5" height="5.5" stroke="#f07c81" stroke-width="1.1" fill="none"/>
<rect x="350.85" y="474.25" width="5.5" height="5.5" stroke="#f07c81" stroke-width="1.1" fill="none"/>
<rect x="342.85" y="504.25" width="5.5" height="5.5" stroke="#f07c81" stroke-width="1.1" fill="none"/>
<rect x="350.85" y="538.65" width="5.5" height="5.5" stroke="#f07c81" stroke-width="1.1" fill="none"/>
<rect x="334.85" y="542.25" width="5.5" height="5.5" stroke="#f07c81" stroke-width="1.1" fill="none"/>
<rect x="334.6" y="510" width="21.6" height="52.61" stroke="#f0434b" stroke-width="1.5" fill="none"/>
<line x1="345.4" y1="510" x2="345.4" y2="494.8" stroke="#f0434b" stroke-width="1.3" />
<line x1="339.9" y1="494.8" x2="350.9" y2="494.8" stroke="#f0434b" stroke-width="1.3" />
<line x1="378" y1="562.6" x2="378" y2="566.1" stroke="#222" stroke-width="1.1" />
<circle cx="370" cy="531.7" r="3.3" fill="#3b8e98" stroke="none" stroke-width="1"/>
<circle cx="378" cy="535.5" r="3.3" fill="#3b8e98" stroke="none" stroke-width="1"/>
<circle cx="370" cy="545.2" r="3.3" fill="#3b8e98" stroke="none" stroke-width="1"/>
<circle cx="378" cy="545.2" r="3.3" fill="#3b8e98" stroke="none" stroke-width="1"/>
<circle cx="386.3" cy="545.2" r="3.3" fill="#3b8e98" stroke="none" stroke-width="1"/>
<rect x="367.2" y="540.72" width="21.6" height="21.88" stroke="#3b8e98" stroke-width="1.5" fill="none"/>
<line x1="378" y1="540.72" x2="378" y2="537.55" stroke="#3b8e98" stroke-width="1.3" />
<line x1="372.5" y1="537.55" x2="383.5" y2="537.55" stroke="#3b8e98" stroke-width="1.3" />
<line x1="410.6" y1="562.6" x2="410.6" y2="566.1" stroke="#222" stroke-width="1.1" />
<rect x="400.4" y="486" width="6.6" height="6.6" stroke="none" stroke-width="1" fill="#f0434b"/>
<rect x="415.8" y="488.9" width="6.6" height="6.6" stroke="none" stroke-width="1" fill="#f0434b"/>
<rect x="400.4" y="491.4" width="6.6" height="6.6" stroke="none" stroke-width="1" fill="#f0434b"/>
<rect x="408.7" y="494.6" width="6.6" height="6.6" stroke="none" stroke-width="1" fill="#f0434b"/>
<rect x="400.4" y="500.1" width="6.6" height="6.6" stroke="none" stroke-width="1" fill="#f0434b"/>
<rect x="415.8" y="505.9" width="6.6" height="6.6" stroke="none" stroke-width="1" fill="#f0434b"/>
<rect x="408.7" y="506.5" width="6.6" height="6.6" stroke="none" stroke-width="1" fill="#f0434b"/>
<rect x="408.7" y="516.2" width="6.6" height="6.6" stroke="none" stroke-width="1" fill="#f0434b"/>
<rect x="399.8" y="502.98" width="21.6" height="59.62" stroke="#f0434b" stroke-width="1.5" fill="none"/>
<line x1="410.6" y1="502.98" x2="410.6" y2="499.14" stroke="#f0434b" stroke-width="1.3" />
<line x1="405.1" y1="499.14" x2="416.1" y2="499.14" stroke="#f0434b" stroke-width="1.3" />
<text x="315.6" y="577.5" font-size="12.2" text-anchor="end" transform="rotate(-30 315.6 577.5)">Pristane-R90</text>
<text x="348.4" y="577.5" font-size="12.2" text-anchor="end" transform="rotate(-30 348.4 577.5)">Pristane-90H</text>
<text x="381" y="577.5" font-size="12.2" text-anchor="end" transform="rotate(-30 381 577.5)">MNV-Pristane-R90</text>
<text x="413.6" y="577.5" font-size="12.2" text-anchor="end" transform="rotate(-30 413.6 577.5)">MNV-Pristane-90H</text>
<text x="361.2" y="436.6" font-size="12.2" text-anchor="middle">Male</text>
<text x="331.5" y="457.4" font-size="11.1" text-anchor="middle"><tspan font-style="italic">P</tspan> = 0.2677</text>
<text x="392.5" y="472" font-size="11.1" text-anchor="middle"><tspan font-style="italic">P</tspan> = 0.0016</text>
<polyline points="312.4,519 312.4,462.6 346.6,462.6 346.6,469" stroke="#222" stroke-width="1.3" fill="none"/>
<polyline points="378,520 378,477.6 411,477.6 411,484" stroke="#222" stroke-width="1.3" fill="none"/>
<line x1="290" y1="562.6" x2="433.6" y2="562.6" stroke="#222" stroke-width="1.3" />
<text x="258.6" y="510.5" font-size="12.4" text-anchor="middle" transform="rotate(-90 258.6 510.5)">Anti-dsDNA (OD<tspan font-size="9" dy="3">450nm</tspan><tspan dy="-3">)</tspan></text>
<line x1="478.5" y1="235.5" x2="478.5" y2="336.5" stroke="#555" stroke-width="1.2" />
<line x1="475.5" y1="336" x2="478.5" y2="336" stroke="#333" stroke-width="1.2" />
<text x="475.2" y="340.5" font-size="12.3" text-anchor="end">0.0</text>
<line x1="475.5" y1="311" x2="478.5" y2="311" stroke="#333" stroke-width="1.2" />
<text x="475.2" y="315.5" font-size="12.3" text-anchor="end">0.5</text>
<line x1="475.5" y1="286" x2="478.5" y2="286" stroke="#333" stroke-width="1.2" />
<text x="475.2" y="290.5" font-size="12.3" text-anchor="end">1.0</text>
<line x1="475.5" y1="261" x2="478.5" y2="261" stroke="#333" stroke-width="1.2" />
<text x="475.2" y="265.5" font-size="12.3" text-anchor="end">1.5</text>
<line x1="475.5" y1="236" x2="478.5" y2="236" stroke="#333" stroke-width="1.2" />
<text x="475.2" y="240.5" font-size="12.3" text-anchor="end">2.0</text>
<line x1="478.5" y1="336" x2="622" y2="336" stroke="#555" stroke-width="1.2" />
<circle cx="486.18" cy="322.5" r="2.1" fill="none" stroke="#4aa7b2" stroke-width="1"/>
<circle cx="489.37" cy="323.5" r="2.1" fill="none" stroke="#4aa7b2" stroke-width="1"/>
<circle cx="491.79" cy="322" r="2.1" fill="none" stroke="#4aa7b2" stroke-width="1"/>
<circle cx="486.77" cy="324" r="2.1" fill="none" stroke="#4aa7b2" stroke-width="1"/>
<circle cx="489.5" cy="323" r="2.1" fill="none" stroke="#4aa7b2" stroke-width="1"/>
<rect x="484.1" y="322.5" width="10.4" height="13.5" stroke="#4aa7b2" stroke-width="1.3" fill="none"/>
<line x1="489.3" y1="322.5" x2="489.3" y2="321.5" stroke="#4aa7b2" stroke-width="1.2" />
<line x1="486.3" y1="321.5" x2="492.3" y2="321.5" stroke="#4aa7b2" stroke-width="1.2" />
<circle cx="502.3" cy="306" r="2.6" fill="#4aa7b2" stroke="none" stroke-width="1"/>
<circle cx="504.92" cy="308.5" r="2.6" fill="#4aa7b2" stroke="none" stroke-width="1"/>
<circle cx="508.94" cy="311" r="2.6" fill="#4aa7b2" stroke="none" stroke-width="1"/>
<circle cx="502.61" cy="312.5" r="2.6" fill="#4aa7b2" stroke="none" stroke-width="1"/>
<circle cx="505.27" cy="315" r="2.6" fill="#4aa7b2" stroke="none" stroke-width="1"/>
<circle cx="509.19" cy="316" r="2.6" fill="#4aa7b2" stroke="none" stroke-width="1"/>
<circle cx="502.95" cy="317" r="2.6" fill="#4aa7b2" stroke="none" stroke-width="1"/>
<circle cx="506.24" cy="318" r="2.6" fill="#4aa7b2" stroke="none" stroke-width="1"/>
<circle cx="508.36" cy="319.5" r="2.6" fill="#4aa7b2" stroke="none" stroke-width="1"/>
<circle cx="503.22" cy="321" r="2.6" fill="#4aa7b2" stroke="none" stroke-width="1"/>
<circle cx="505.14" cy="322" r="2.6" fill="#4aa7b2" stroke="none" stroke-width="1"/>
<circle cx="508.62" cy="323" r="2.6" fill="#4aa7b2" stroke="none" stroke-width="1"/>
<circle cx="503.59" cy="313.5" r="2.6" fill="#4aa7b2" stroke="none" stroke-width="1"/>
<rect x="500.5" y="317.5" width="10.4" height="18.5" stroke="#4aa7b2" stroke-width="1.3" fill="none"/>
<line x1="505.7" y1="317.5" x2="505.7" y2="315.5" stroke="#4aa7b2" stroke-width="1.2" />
<line x1="502.7" y1="315.5" x2="508.7" y2="315.5" stroke="#4aa7b2" stroke-width="1.2" />
<rect x="516.74" y="319.9" width="4.2" height="4.2" stroke="#f0434b" stroke-width="1" fill="none"/>
<rect x="519.79" y="321.4" width="4.2" height="4.2" stroke="#f0434b" stroke-width="1" fill="none"/>
<rect x="522.37" y="322.4" width="4.2" height="4.2" stroke="#f0434b" stroke-width="1" fill="none"/>
<rect x="516" y="323.4" width="4.2" height="4.2" stroke="#f0434b" stroke-width="1" fill="none"/>
<rect x="519.81" y="323.9" width="4.2" height="4.2" stroke="#f0434b" stroke-width="1" fill="none"/>
<rect x="522.25" y="321.9" width="4.2" height="4.2" stroke="#f0434b" stroke-width="1" fill="none"/>
<rect x="516.38" y="322.9" width="4.2" height="4.2" stroke="#f0434b" stroke-width="1" fill="none"/>
<rect x="518.65" y="320.9" width="4.2" height="4.2" stroke="#f0434b" stroke-width="1" fill="none"/>
<rect x="516.3" y="324" width="10.4" height="12" stroke="#f0434b" stroke-width="1.3" fill="none"/>
<line x1="521.5" y1="324" x2="521.5" y2="323" stroke="#f0434b" stroke-width="1.2" />
<line x1="518.5" y1="323" x2="524.5" y2="323" stroke="#f0434b" stroke-width="1.2" />
<rect x="532.48" y="302.4" width="5.2" height="5.2" stroke="none" stroke-width="1" fill="#f0434b"/>
<rect x="534.56" y="304.4" width="5.2" height="5.2" stroke="none" stroke-width="1" fill="#f0434b"/>
<rect x="537.65" y="305.9" width="5.2" height="5.2" stroke="none" stroke-width="1" fill="#f0434b"/>
<rect x="532.51" y="307.4" width="5.2" height="5.2" stroke="none" stroke-width="1" fill="#f0434b"/>
<rect x="534.94" y="308.4" width="5.2" height="5.2" stroke="none" stroke-width="1" fill="#f0434b"/>
<rect x="537.97" y="309.4" width="5.2" height="5.2" stroke="none" stroke-width="1" fill="#f0434b"/>
<rect x="531.73" y="310.4" width="5.2" height="5.2" stroke="none" stroke-width="1" fill="#f0434b"/>
<rect x="535.08" y="311.4" width="5.2" height="5.2" stroke="none" stroke-width="1" fill="#f0434b"/>
<rect x="537.21" y="312.4" width="5.2" height="5.2" stroke="none" stroke-width="1" fill="#f0434b"/>
<rect x="532.6" y="313.4" width="5.2" height="5.2" stroke="none" stroke-width="1" fill="#f0434b"/>
<rect x="535.21" y="314.4" width="5.2" height="5.2" stroke="none" stroke-width="1" fill="#f0434b"/>
<rect x="536.66" y="315.4" width="5.2" height="5.2" stroke="none" stroke-width="1" fill="#f0434b"/>
<rect x="531.32" y="316.4" width="5.2" height="5.2" stroke="none" stroke-width="1" fill="#f0434b"/>
<rect x="534.15" y="317.4" width="5.2" height="5.2" stroke="none" stroke-width="1" fill="#f0434b"/>
<rect x="538.04" y="318.4" width="5.2" height="5.2" stroke="none" stroke-width="1" fill="#f0434b"/>
<rect x="531.8" y="319.4" width="5.2" height="5.2" stroke="none" stroke-width="1" fill="#f0434b"/>
<rect x="534.8" y="320.4" width="5.2" height="5.2" stroke="none" stroke-width="1" fill="#f0434b"/>
<rect x="536.98" y="308.4" width="5.2" height="5.2" stroke="none" stroke-width="1" fill="#f0434b"/>
<rect x="531.91" y="310.9" width="5.2" height="5.2" stroke="none" stroke-width="1" fill="#f0434b"/>
<rect x="534.42" y="313.4" width="5.2" height="5.2" stroke="none" stroke-width="1" fill="#f0434b"/>
<rect x="532" y="314.5" width="10.4" height="21.5" stroke="#f0434b" stroke-width="1.3" fill="none"/>
<line x1="537.2" y1="314.5" x2="537.2" y2="312.5" stroke="#f0434b" stroke-width="1.2" />
<line x1="534.2" y1="312.5" x2="540.2" y2="312.5" stroke="#f0434b" stroke-width="1.2" />
<line x1="513.6" y1="336" x2="513.6" y2="338.5" stroke="#333" stroke-width="1" />
<circle cx="560.56" cy="323" r="2.1" fill="none" stroke="#4aa7b2" stroke-width="1"/>
<circle cx="563.64" cy="324.5" r="2.1" fill="none" stroke="#4aa7b2" stroke-width="1"/>
<circle cx="566.33" cy="323.5" r="2.1" fill="none" stroke="#4aa7b2" stroke-width="1"/>
<circle cx="561.45" cy="325" r="2.1" fill="none" stroke="#4aa7b2" stroke-width="1"/>
<rect x="558.3" y="324" width="10.4" height="12" stroke="#4aa7b2" stroke-width="1.3" fill="none"/>
<line x1="563.5" y1="324" x2="563.5" y2="323" stroke="#4aa7b2" stroke-width="1.2" />
<line x1="560.5" y1="323" x2="566.5" y2="323" stroke="#4aa7b2" stroke-width="1.2" />
<circle cx="576.99" cy="243.5" r="2.6" fill="#4aa7b2" stroke="none" stroke-width="1"/>
<circle cx="580.09" cy="244" r="2.6" fill="#4aa7b2" stroke="none" stroke-width="1"/>
<circle cx="582.67" cy="246" r="2.6" fill="#4aa7b2" stroke="none" stroke-width="1"/>
<circle cx="577.49" cy="247" r="2.6" fill="#4aa7b2" stroke="none" stroke-width="1"/>
<circle cx="579.67" cy="248.5" r="2.6" fill="#4aa7b2" stroke="none" stroke-width="1"/>
<circle cx="581.56" cy="250" r="2.6" fill="#4aa7b2" stroke="none" stroke-width="1"/>
<circle cx="577.28" cy="251" r="2.6" fill="#4aa7b2" stroke="none" stroke-width="1"/>
<circle cx="580.14" cy="252" r="2.6" fill="#4aa7b2" stroke="none" stroke-width="1"/>
<circle cx="582.75" cy="253.5" r="2.6" fill="#4aa7b2" stroke="none" stroke-width="1"/>
<circle cx="576.81" cy="256" r="2.6" fill="#4aa7b2" stroke="none" stroke-width="1"/>
<circle cx="579.74" cy="258.5" r="2.6" fill="#4aa7b2" stroke="none" stroke-width="1"/>
<circle cx="581.64" cy="261" r="2.6" fill="#4aa7b2" stroke="none" stroke-width="1"/>
<circle cx="577.23" cy="267" r="2.6" fill="#4aa7b2" stroke="none" stroke-width="1"/>
<rect x="574.2" y="252.5" width="10.4" height="83.5" stroke="#4aa7b2" stroke-width="1.3" fill="none"/>
<line x1="579.4" y1="252.5" x2="579.4" y2="250" stroke="#4aa7b2" stroke-width="1.2" />
<line x1="576.4" y1="250" x2="582.4" y2="250" stroke="#4aa7b2" stroke-width="1.2" />
<rect x="590.52" y="321.9" width="4.2" height="4.2" stroke="#f0434b" stroke-width="1" fill="none"/>
<rect x="592.76" y="322.9" width="4.2" height="4.2" stroke="#f0434b" stroke-width="1" fill="none"/>
<rect x="595.1" y="323.9" width="4.2" height="4.2" stroke="#f0434b" stroke-width="1" fill="none"/>
<rect x="590.97" y="323.4" width="4.2" height="4.2" stroke="#f0434b" stroke-width="1" fill="none"/>
<rect x="593.88" y="322.4" width="4.2" height="4.2" stroke="#f0434b" stroke-width="1" fill="none"/>
<rect x="595.14" y="324.4" width="4.2" height="4.2" stroke="#f0434b" stroke-width="1" fill="none"/>
<rect x="590" y="325" width="10.4" height="11" stroke="#f0434b" stroke-width="1.3" fill="none"/>
<line x1="595.2" y1="325" x2="595.2" y2="324.5" stroke="#f0434b" stroke-width="1.2" />
<line x1="592.2" y1="324.5" x2="598.2" y2="324.5" stroke="#f0434b" stroke-width="1.2" />
<rect x="606.38" y="241.9" width="5.2" height="5.2" stroke="none" stroke-width="1" fill="#f0434b"/>
<rect x="608.46" y="242.4" width="5.2" height="5.2" stroke="none" stroke-width="1" fill="#f0434b"/>
<rect x="610.74" y="243.4" width="5.2" height="5.2" stroke="none" stroke-width="1" fill="#f0434b"/>
<rect x="605.57" y="244.4" width="5.2" height="5.2" stroke="none" stroke-width="1" fill="#f0434b"/>
<rect x="609.03" y="245.4" width="5.2" height="5.2" stroke="none" stroke-width="1" fill="#f0434b"/>
<rect x="611.9" y="246.4" width="5.2" height="5.2" stroke="none" stroke-width="1" fill="#f0434b"/>
<rect x="605.17" y="247.4" width="5.2" height="5.2" stroke="none" stroke-width="1" fill="#f0434b"/>
<rect x="608.78" y="248.4" width="5.2" height="5.2" stroke="none" stroke-width="1" fill="#f0434b"/>
<rect x="610.57" y="249.4" width="5.2" height="5.2" stroke="none" stroke-width="1" fill="#f0434b"/>
<rect x="606.25" y="250.9" width="5.2" height="5.2" stroke="none" stroke-width="1" fill="#f0434b"/>
<rect x="608.33" y="253.4" width="5.2" height="5.2" stroke="none" stroke-width="1" fill="#f0434b"/>
<rect x="611.91" y="255.9" width="5.2" height="5.2" stroke="none" stroke-width="1" fill="#f0434b"/>
<rect x="606.67" y="258.4" width="5.2" height="5.2" stroke="none" stroke-width="1" fill="#f0434b"/>
<rect x="608.61" y="264.4" width="5.2" height="5.2" stroke="none" stroke-width="1" fill="#f0434b"/>
<rect x="612.1" y="270.9" width="5.2" height="5.2" stroke="none" stroke-width="1" fill="#f0434b"/>
<rect x="605.6" y="273.4" width="5.2" height="5.2" stroke="none" stroke-width="1" fill="#f0434b"/>
<rect x="607.92" y="244.4" width="5.2" height="5.2" stroke="none" stroke-width="1" fill="#f0434b"/>
<rect x="611.46" y="246.4" width="5.2" height="5.2" stroke="none" stroke-width="1" fill="#f0434b"/>
<rect x="606" y="253.5" width="10.4" height="82.5" stroke="#f0434b" stroke-width="1.3" fill="none"/>
<line x1="611.2" y1="253.5" x2="611.2" y2="251" stroke="#f0434b" stroke-width="1.2" />
<line x1="608.2" y1="251" x2="614.2" y2="251" stroke="#f0434b" stroke-width="1.2" />
<line x1="587.3" y1="336" x2="587.3" y2="338.5" stroke="#333" stroke-width="1" />
<line x1="478.5" y1="323.4" x2="602" y2="323.4" stroke="#222" stroke-width="1" stroke-dasharray="2.2,1.6"/>
<polyline points="489,313 489,293.4 505.4,293.4 505.4,300" stroke="#222" stroke-width="1.3" fill="none"/>
<polyline points="520,314 520,291.4 537,291.4 537,297" stroke="#222" stroke-width="1.3" fill="none"/>
<polyline points="564.4,313.4 564.4,229 580.6,229 580.6,237" stroke="#222" stroke-width="1.3" fill="none"/>
<polyline points="596.4,308 596.4,231.4 611.6,231.4 611.6,237" stroke="#222" stroke-width="1.3" fill="none"/>
<text x="482.5" y="281" font-size="9.8" transform="rotate(-15 482.5 281)"><tspan font-style="italic">P</tspan> &lt; 0.0001</text>
<text x="515" y="287.8" font-size="9.8" transform="rotate(-15 515 287.8)"><tspan font-style="italic">P</tspan> &lt; 0.0001</text>
<text x="541" y="230.5" font-size="9.8" transform="rotate(-15 541 230.5)"><tspan font-style="italic">P</tspan> &lt; 0.0001</text>
<text x="587" y="230" font-size="9.8" transform="rotate(-15 587 230)"><tspan font-style="italic">P</tspan> &lt; 0.0001</text>
<text x="542.3" y="205" font-size="12.2" text-anchor="middle">Female</text>
<text x="513.25" y="352.4" font-size="12" text-anchor="middle">B-Pristane</text>
<text x="587.35" y="352.4" font-size="12" text-anchor="middle">A-Pristane</text>
<circle cx="633" cy="245.4" r="2.15" fill="none" stroke="#4aa7b2" stroke-width="1.1"/>
<text x="641.3" y="249.1" font-size="10.1">R90</text>
<circle cx="633" cy="258.4" r="2.7" fill="#4aa7b2" stroke="none" stroke-width="1"/>
<text x="641.3" y="262.1" font-size="10.1">MNV-R90</text>
<rect x="630.85" y="269.85" width="4.3" height="4.3" stroke="#f0434b" stroke-width="1.1" fill="none"/>
<text x="641.3" y="275.7" font-size="10.1">90H</text>
<rect x="630.3" y="283.7" width="5.4" height="5.4" stroke="none" stroke-width="1" fill="#f0434b"/>
<text x="641.3" y="290.1" font-size="10.1">MNV-90H</text>
<line x1="478.5" y1="336" x2="622" y2="336" stroke="#555" stroke-width="1.2" />
<text x="450.3" y="281" font-size="12.2" text-anchor="middle" transform="rotate(-90 450.3 281)">Anti-MNV (OD<tspan font-size="9" dy="3">450nm</tspan><tspan dy="-3">)</tspan></text>
<line x1="491.4" y1="459" x2="491.4" y2="560.5" stroke="#555" stroke-width="1.2" />
<line x1="488.4" y1="560" x2="491.4" y2="560" stroke="#333" stroke-width="1.2" />
<text x="488.1" y="564.5" font-size="12.3" text-anchor="end">0.0</text>
<line x1="488.4" y1="539.9" x2="491.4" y2="539.9" stroke="#333" stroke-width="1.2" />
<text x="488.1" y="544.4" font-size="12.3" text-anchor="end">0.5</text>
<line x1="488.4" y1="519.8" x2="491.4" y2="519.8" stroke="#333" stroke-width="1.2" />
<text x="488.1" y="524.3" font-size="12.3" text-anchor="end">1.0</text>
<line x1="488.4" y1="499.7" x2="491.4" y2="499.7" stroke="#333" stroke-width="1.2" />
<text x="488.1" y="504.2" font-size="12.3" text-anchor="end">1.5</text>
<line x1="488.4" y1="479.6" x2="491.4" y2="479.6" stroke="#333" stroke-width="1.2" />
<text x="488.1" y="484.1" font-size="12.3" text-anchor="end">2.0</text>
<line x1="488.4" y1="459.5" x2="491.4" y2="459.5" stroke="#333" stroke-width="1.2" />
<text x="488.1" y="464" font-size="12.3" text-anchor="end">2.5</text>
<line x1="491.4" y1="560" x2="613" y2="560" stroke="#555" stroke-width="1.2" />
<circle cx="497.45" cy="549.55" r="2.1" fill="none" stroke="#4aa7b2" stroke-width="1"/>
<circle cx="500.52" cy="550.35" r="2.1" fill="none" stroke="#4aa7b2" stroke-width="1"/>
<circle cx="503.65" cy="549.95" r="2.1" fill="none" stroke="#4aa7b2" stroke-width="1"/>
<circle cx="498.38" cy="550.75" r="2.1" fill="none" stroke="#4aa7b2" stroke-width="1"/>
<rect x="496.7" y="549.95" width="8.6" height="10.05" stroke="#4aa7b2" stroke-width="1.3" fill="none"/>
<line x1="501" y1="549.95" x2="501" y2="549.55" stroke="#4aa7b2" stroke-width="1.2" />
<line x1="498" y1="549.55" x2="504" y2="549.55" stroke="#4aa7b2" stroke-width="1.2" />
<circle cx="510.85" cy="547.94" r="2.6" fill="#4aa7b2" stroke="none" stroke-width="1"/>
<circle cx="513.47" cy="549.15" r="2.6" fill="#4aa7b2" stroke="none" stroke-width="1"/>
<circle cx="517.59" cy="549.95" r="2.6" fill="#4aa7b2" stroke="none" stroke-width="1"/>
<circle cx="511.1" cy="550.75" r="2.6" fill="#4aa7b2" stroke="none" stroke-width="1"/>
<circle cx="514.93" cy="551.16" r="2.6" fill="#4aa7b2" stroke="none" stroke-width="1"/>
<rect x="509.9" y="550.35" width="8.6" height="9.65" stroke="#4aa7b2" stroke-width="1.3" fill="none"/>
<line x1="514.2" y1="550.35" x2="514.2" y2="549.55" stroke="#4aa7b2" stroke-width="1.2" />
<line x1="511.2" y1="549.55" x2="517.2" y2="549.55" stroke="#4aa7b2" stroke-width="1.2" />
<rect x="523.13" y="547.45" width="4.2" height="4.2" stroke="#f0434b" stroke-width="1" fill="none"/>
<rect x="525.1" y="547.85" width="4.2" height="4.2" stroke="#f0434b" stroke-width="1" fill="none"/>
<rect x="528.04" y="548.65" width="4.2" height="4.2" stroke="#f0434b" stroke-width="1" fill="none"/>
<rect x="522.53" y="549.06" width="4.2" height="4.2" stroke="#f0434b" stroke-width="1" fill="none"/>
<rect x="525.53" y="548.25" width="4.2" height="4.2" stroke="#f0434b" stroke-width="1" fill="none"/>
<rect x="523.1" y="550.35" width="8.6" height="9.65" stroke="#f0434b" stroke-width="1.3" fill="none"/>
<line x1="527.4" y1="550.35" x2="527.4" y2="549.95" stroke="#f0434b" stroke-width="1.2" />
<line x1="524.4" y1="549.95" x2="530.4" y2="549.95" stroke="#f0434b" stroke-width="1.2" />
<rect x="535.35" y="529.26" width="5.2" height="5.2" stroke="none" stroke-width="1" fill="#f0434b"/>
<rect x="538.09" y="535.29" width="5.2" height="5.2" stroke="none" stroke-width="1" fill="#f0434b"/>
<rect x="540.99" y="541.32" width="5.2" height="5.2" stroke="none" stroke-width="1" fill="#f0434b"/>
<rect x="535.9" y="543.33" width="5.2" height="5.2" stroke="none" stroke-width="1" fill="#f0434b"/>
<rect x="538.01" y="545.34" width="5.2" height="5.2" stroke="none" stroke-width="1" fill="#f0434b"/>
<rect x="540.69" y="546.14" width="5.2" height="5.2" stroke="none" stroke-width="1" fill="#f0434b"/>
<rect x="535.55" y="547.35" width="5.2" height="5.2" stroke="none" stroke-width="1" fill="#f0434b"/>
<rect x="537.58" y="548.56" width="5.2" height="5.2" stroke="none" stroke-width="1" fill="#f0434b"/>
<rect x="540.48" y="549.36" width="5.2" height="5.2" stroke="none" stroke-width="1" fill="#f0434b"/>
<rect x="535.96" y="545.34" width="5.2" height="5.2" stroke="none" stroke-width="1" fill="#f0434b"/>
<rect x="538.03" y="546.95" width="5.2" height="5.2" stroke="none" stroke-width="1" fill="#f0434b"/>
<rect x="536.3" y="549.95" width="8.6" height="10.05" stroke="#f0434b" stroke-width="1.3" fill="none"/>
<line x1="540.6" y1="549.95" x2="540.6" y2="547.94" stroke="#f0434b" stroke-width="1.2" />
<line x1="537.6" y1="547.94" x2="543.6" y2="547.94" stroke="#f0434b" stroke-width="1.2" />
<line x1="520.8" y1="560" x2="520.8" y2="562.5" stroke="#333" stroke-width="1" />
<circle cx="560.98" cy="549.55" r="2.1" fill="none" stroke="#4aa7b2" stroke-width="1"/>
<circle cx="562.92" cy="550.75" r="2.1" fill="none" stroke="#4aa7b2" stroke-width="1"/>
<circle cx="566.36" cy="551.16" r="2.1" fill="none" stroke="#4aa7b2" stroke-width="1"/>
<rect x="559.4" y="550.35" width="8.6" height="9.65" stroke="#4aa7b2" stroke-width="1.3" fill="none"/>
<line x1="563.7" y1="550.35" x2="563.7" y2="549.95" stroke="#4aa7b2" stroke-width="1.2" />
<line x1="560.7" y1="549.95" x2="566.7" y2="549.95" stroke="#4aa7b2" stroke-width="1.2" />
<circle cx="574.33" cy="485.23" r="2.6" fill="#4aa7b2" stroke="none" stroke-width="1"/>
<circle cx="576.23" cy="487.64" r="2.6" fill="#4aa7b2" stroke="none" stroke-width="1"/>
<circle cx="579.99" cy="495.68" r="2.6" fill="#4aa7b2" stroke="none" stroke-width="1"/>
<circle cx="574.41" cy="497.69" r="2.6" fill="#4aa7b2" stroke="none" stroke-width="1"/>
<circle cx="576.3" cy="503.72" r="2.6" fill="#4aa7b2" stroke="none" stroke-width="1"/>
<circle cx="580" cy="505.73" r="2.6" fill="#4aa7b2" stroke="none" stroke-width="1"/>
<rect x="572.7" y="496.08" width="8.6" height="63.92" stroke="#4aa7b2" stroke-width="1.3" fill="none"/>
<line x1="577" y1="496.08" x2="577" y2="491.66" stroke="#4aa7b2" stroke-width="1.2" />
<line x1="574" y1="491.66" x2="580" y2="491.66" stroke="#4aa7b2" stroke-width="1.2" />
<rect x="585.75" y="547.05" width="4.2" height="4.2" stroke="#f0434b" stroke-width="1" fill="none"/>
<rect x="588.89" y="547.85" width="4.2" height="4.2" stroke="#f0434b" stroke-width="1" fill="none"/>
<rect x="591.16" y="548.25" width="4.2" height="4.2" stroke="#f0434b" stroke-width="1" fill="none"/>
<rect x="586.13" y="548.65" width="4.2" height="4.2" stroke="#f0434b" stroke-width="1" fill="none"/>
<rect x="586.4" y="549.95" width="8.6" height="10.05" stroke="#f0434b" stroke-width="1.3" fill="none"/>
<line x1="590.7" y1="549.95" x2="590.7" y2="549.55" stroke="#f0434b" stroke-width="1.2" />
<line x1="587.7" y1="549.55" x2="593.7" y2="549.55" stroke="#f0434b" stroke-width="1.2" />
<rect x="599.28" y="477.8" width="5.2" height="5.2" stroke="none" stroke-width="1" fill="#f0434b"/>
<rect x="600.94" y="481.02" width="5.2" height="5.2" stroke="none" stroke-width="1" fill="#f0434b"/>
<rect x="603.8" y="485.04" width="5.2" height="5.2" stroke="none" stroke-width="1" fill="#f0434b"/>
<rect x="599.18" y="487.05" width="5.2" height="5.2" stroke="none" stroke-width="1" fill="#f0434b"/>
<rect x="602.44" y="493.08" width="5.2" height="5.2" stroke="none" stroke-width="1" fill="#f0434b"/>
<rect x="604.1" y="497.1" width="5.2" height="5.2" stroke="none" stroke-width="1" fill="#f0434b"/>
<rect x="598.83" y="501.12" width="5.2" height="5.2" stroke="none" stroke-width="1" fill="#f0434b"/>
<rect x="601.85" y="503.13" width="5.2" height="5.2" stroke="none" stroke-width="1" fill="#f0434b"/>
<rect x="604.21" y="529.26" width="5.2" height="5.2" stroke="none" stroke-width="1" fill="#f0434b"/>
<rect x="598.68" y="535.29" width="5.2" height="5.2" stroke="none" stroke-width="1" fill="#f0434b"/>
<rect x="601.4" y="543.33" width="5.2" height="5.2" stroke="none" stroke-width="1" fill="#f0434b"/>
<rect x="604.29" y="547.35" width="5.2" height="5.2" stroke="none" stroke-width="1" fill="#f0434b"/>
<rect x="599.05" y="545.34" width="5.2" height="5.2" stroke="none" stroke-width="1" fill="#f0434b"/>
<rect x="600" y="510.55" width="8.6" height="49.45" stroke="#f0434b" stroke-width="1.3" fill="none"/>
<line x1="604.3" y1="510.55" x2="604.3" y2="501.71" stroke="#f0434b" stroke-width="1.2" />
<line x1="601.3" y1="501.71" x2="607.3" y2="501.71" stroke="#f0434b" stroke-width="1.2" />
<line x1="583.85" y1="560" x2="583.85" y2="562.5" stroke="#333" stroke-width="1" />
<line x1="491.4" y1="549" x2="602" y2="549" stroke="#222" stroke-width="1" stroke-dasharray="2.2,1.6"/>
<polyline points="563.6,548 563.6,473.6 577.6,473.6 577.6,480" stroke="#222" stroke-width="1.3" fill="none"/>
<polyline points="590.4,548 590.4,469 605,469 605,474.6" stroke="#222" stroke-width="1.3" fill="none"/>
<text x="547.6" y="470.6" font-size="10.2" transform="rotate(-25 547.6 470.6)"><tspan font-style="italic">P</tspan> = 0.0007</text>
<text x="582" y="468.3" font-size="10.2" transform="rotate(-25 582 468.3)"><tspan font-style="italic">P</tspan> &lt; 0.0001</text>
<text x="553.3" y="442" font-size="12.2" text-anchor="middle">Male</text>
<text x="520.8" y="575" font-size="12" text-anchor="middle">B-Pristane</text>
<text x="584" y="575" font-size="12" text-anchor="middle">A-Pristane</text>
<circle cx="622" cy="471" r="2.15" fill="none" stroke="#4aa7b2" stroke-width="1.1"/>
<text x="630" y="474.7" font-size="10.1">R90</text>
<circle cx="622" cy="483.4" r="2.7" fill="#4aa7b2" stroke="none" stroke-width="1"/>
<text x="630" y="487.1" font-size="10.1">MNV-R90</text>
<rect x="619.85" y="494.85" width="4.3" height="4.3" stroke="#f0434b" stroke-width="1.1" fill="none"/>
<text x="630" y="500.7" font-size="10.1">90H</text>
<rect x="619.3" y="506.7" width="5.4" height="5.4" stroke="none" stroke-width="1" fill="#f0434b"/>
<text x="630" y="513.1" font-size="10.1">MNV-90H</text>
<line x1="491.4" y1="560" x2="613" y2="560" stroke="#555" stroke-width="1.2" />
<text x="462" y="506" font-size="12.2" text-anchor="middle" transform="rotate(-90 462 506)">Anti-MNV (OD<tspan font-size="9" dy="3">450nm</tspan><tspan dy="-3">)</tspan></text>
<line x1="53.6" y1="702.9" x2="53.6" y2="803.9" stroke="#999" stroke-width="1.4" />
<line x1="50.6" y1="803.4" x2="53.6" y2="803.4" stroke="#333" stroke-width="1.2" />
<text x="50.3" y="807.4" font-size="12" text-anchor="end">0</text>
<line x1="50.6" y1="778.4" x2="53.6" y2="778.4" stroke="#333" stroke-width="1.2" />
<text x="50.3" y="782.4" font-size="12" text-anchor="end">1</text>
<line x1="50.6" y1="753.4" x2="53.6" y2="753.4" stroke="#333" stroke-width="1.2" />
<text x="50.3" y="757.4" font-size="12" text-anchor="end">2</text>
<line x1="50.6" y1="728.4" x2="53.6" y2="728.4" stroke="#333" stroke-width="1.2" />
<text x="50.3" y="732.4" font-size="12" text-anchor="end">3</text>
<line x1="50.6" y1="703.4" x2="53.6" y2="703.4" stroke="#333" stroke-width="1.2" />
<text x="50.3" y="707.4" font-size="12" text-anchor="end">4</text>
<line x1="53.6" y1="803.4" x2="169" y2="803.4" stroke="#444" stroke-width="1.2" />
<line x1="71.5" y1="803.4" x2="71.5" y2="805.9" stroke="#444" stroke-width="1" />
<circle cx="71.5" cy="778.4" r="2.8" fill="none" stroke="#4aa7b2" stroke-width="1"/>
<circle cx="69.7" cy="790.9" r="2.8" fill="none" stroke="#4aa7b2" stroke-width="1"/>
<circle cx="73.3" cy="790.9" r="2.8" fill="none" stroke="#4aa7b2" stroke-width="1"/>
<circle cx="66.3" cy="803.4" r="2.8" fill="none" stroke="#4aa7b2" stroke-width="1"/>
<circle cx="68.9" cy="803.4" r="2.8" fill="none" stroke="#4aa7b2" stroke-width="1"/>
<circle cx="71.5" cy="803.4" r="2.8" fill="none" stroke="#4aa7b2" stroke-width="1"/>
<circle cx="74.1" cy="803.4" r="2.8" fill="none" stroke="#4aa7b2" stroke-width="1"/>
<circle cx="76.7" cy="803.4" r="2.8" fill="none" stroke="#4aa7b2" stroke-width="1"/>
<rect x="63" y="797.4" width="17" height="6" stroke="#4aa7b2" stroke-width="1.4" fill="none"/>
<line x1="71.5" y1="797.4" x2="71.5" y2="792.15" stroke="#4aa7b2" stroke-width="1.2" />
<line x1="67.5" y1="792.15" x2="75.5" y2="792.15" stroke="#4aa7b2" stroke-width="1.2" />
<line x1="98" y1="803.4" x2="98" y2="805.9" stroke="#444" stroke-width="1" />
<rect x="95.2" y="775.6" width="5.6" height="5.6" stroke="#f0434b" stroke-width="1" fill="none"/>
<rect x="90.1" y="788.1" width="5.6" height="5.6" stroke="#f0434b" stroke-width="1" fill="none"/>
<rect x="93.5" y="788.1" width="5.6" height="5.6" stroke="#f0434b" stroke-width="1" fill="none"/>
<rect x="96.9" y="788.1" width="5.6" height="5.6" stroke="#f0434b" stroke-width="1" fill="none"/>
<rect x="100.3" y="788.1" width="5.6" height="5.6" stroke="#f0434b" stroke-width="1" fill="none"/>
<rect x="91.8" y="800.6" width="5.6" height="5.6" stroke="#f0434b" stroke-width="1" fill="none"/>
<rect x="95.2" y="800.6" width="5.6" height="5.6" stroke="#f0434b" stroke-width="1" fill="none"/>
<rect x="98.6" y="800.6" width="5.6" height="5.6" stroke="#f0434b" stroke-width="1" fill="none"/>
<rect x="89.5" y="788.65" width="17" height="14.75" stroke="#f0434b" stroke-width="1.4" fill="none"/>
<line x1="98" y1="788.65" x2="98" y2="787.9" stroke="#f0434b" stroke-width="1.2" />
<line x1="94" y1="787.9" x2="102" y2="787.9" stroke="#f0434b" stroke-width="1.2" />
<line x1="124.5" y1="803.4" x2="124.5" y2="805.9" stroke="#444" stroke-width="1" />
<circle cx="119.25" cy="778.4" r="3.3" fill="#4aa7b2" stroke="none" stroke-width="1"/>
<circle cx="122.75" cy="778.4" r="3.3" fill="#4aa7b2" stroke="none" stroke-width="1"/>
<circle cx="126.25" cy="778.4" r="3.3" fill="#4aa7b2" stroke="none" stroke-width="1"/>
<circle cx="129.75" cy="778.4" r="3.3" fill="#4aa7b2" stroke="none" stroke-width="1"/>
<circle cx="124.5" cy="790.9" r="3.3" fill="#4aa7b2" stroke="none" stroke-width="1"/>
<circle cx="119.25" cy="803.4" r="3.3" fill="#4aa7b2" stroke="none" stroke-width="1"/>
<circle cx="122.75" cy="803.4" r="3.3" fill="#4aa7b2" stroke="none" stroke-width="1"/>
<circle cx="126.25" cy="803.4" r="3.3" fill="#4aa7b2" stroke="none" stroke-width="1"/>
<circle cx="129.75" cy="803.4" r="3.3" fill="#4aa7b2" stroke="none" stroke-width="1"/>
<rect x="116" y="788.9" width="17" height="14.5" stroke="#4aa7b2" stroke-width="1.4" fill="none"/>
<line x1="124.5" y1="788.9" x2="124.5" y2="783.9" stroke="#4aa7b2" stroke-width="1.2" />
<line x1="120.5" y1="783.9" x2="128.5" y2="783.9" stroke="#4aa7b2" stroke-width="1.2" />
<line x1="150.8" y1="803.4" x2="150.8" y2="805.9" stroke="#444" stroke-width="1" />
<rect x="141.95" y="725.1" width="6.6" height="6.6" stroke="none" stroke-width="1" fill="#f0434b"/>
<rect x="145.65" y="725.1" width="6.6" height="6.6" stroke="none" stroke-width="1" fill="#f0434b"/>
<rect x="149.35" y="725.1" width="6.6" height="6.6" stroke="none" stroke-width="1" fill="#f0434b"/>
<rect x="153.05" y="725.1" width="6.6" height="6.6" stroke="none" stroke-width="1" fill="#f0434b"/>
<rect x="144.2" y="750.1" width="6.6" height="6.6" stroke="none" stroke-width="1" fill="#f0434b"/>
<rect x="147.5" y="750.1" width="6.6" height="6.6" stroke="none" stroke-width="1" fill="#f0434b"/>
<rect x="150.8" y="750.1" width="6.6" height="6.6" stroke="none" stroke-width="1" fill="#f0434b"/>
<rect x="147.5" y="775.1" width="6.6" height="6.6" stroke="none" stroke-width="1" fill="#f0434b"/>
<rect x="142.3" y="743.9" width="17" height="59.5" stroke="#f0434b" stroke-width="1.4" fill="none"/>
<line x1="150.8" y1="743.9" x2="150.8" y2="737.15" stroke="#f0434b" stroke-width="1.2" />
<line x1="146.8" y1="737.15" x2="154.8" y2="737.15" stroke="#f0434b" stroke-width="1.2" />
<polyline points="98,766 98,692.6 151,692.6 151,697" stroke="#222" stroke-width="1.2" fill="none"/>
<polyline points="126.4,767 126.4,714.6 151,714.6 151,721" stroke="#222" stroke-width="1.2" fill="none"/>
<line x1="53.6" y1="803.4" x2="169" y2="803.4" stroke="#444" stroke-width="1.2" />
<text x="126" y="688.5" font-size="10.3" text-anchor="middle" font-style="italic">P &lt; 0.0001</text>
<text x="137.5" y="709.2" font-size="10.3" text-anchor="middle" font-style="italic">P &lt; 0.0001</text>
<text x="74.5" y="819" font-size="12" text-anchor="end" transform="rotate(-30 74.5 819)">Pristane-R90</text>
<text x="101" y="819" font-size="12" text-anchor="end" transform="rotate(-30 101 819)">Pristane-90H</text>
<text x="127.5" y="819" font-size="12" text-anchor="end" transform="rotate(-30 127.5 819)">MNV-Pristane-R90</text>
<text x="153.8" y="819" font-size="12" text-anchor="end" transform="rotate(-30 153.8 819)">MNV-Pristane-90H</text>
<text x="26.2" y="749.5" font-size="12.2" text-anchor="middle" transform="rotate(-90 26.2 749.5)">Joint histology scores</text>
<text x="41.6" y="747.4" font-size="11.8" text-anchor="middle" transform="rotate(-90 41.6 747.4)">(0~3)</text>
<line x1="270" y1="705.5" x2="270" y2="806.1" stroke="#999" stroke-width="1.4" />
<line x1="267" y1="805.6" x2="270" y2="805.6" stroke="#333" stroke-width="1.2" />
<text x="266.7" y="809.6" font-size="12" text-anchor="end">0</text>
<line x1="267" y1="785.68" x2="270" y2="785.68" stroke="#333" stroke-width="1.2" />
<text x="266.7" y="789.68" font-size="12" text-anchor="end">1</text>
<line x1="267" y1="765.76" x2="270" y2="765.76" stroke="#333" stroke-width="1.2" />
<text x="266.7" y="769.76" font-size="12" text-anchor="end">2</text>
<line x1="267" y1="745.84" x2="270" y2="745.84" stroke="#333" stroke-width="1.2" />
<text x="266.7" y="749.84" font-size="12" text-anchor="end">3</text>
<line x1="267" y1="725.92" x2="270" y2="725.92" stroke="#333" stroke-width="1.2" />
<text x="266.7" y="729.92" font-size="12" text-anchor="end">4</text>
<line x1="267" y1="706" x2="270" y2="706" stroke="#333" stroke-width="1.2" />
<text x="266.7" y="710" font-size="12" text-anchor="end">5</text>
<line x1="270" y1="805.6" x2="385.6" y2="805.6" stroke="#444" stroke-width="1.2" />
<line x1="289" y1="805.6" x2="289" y2="808.1" stroke="#444" stroke-width="1" />
<circle cx="289" cy="785.68" r="2.8" fill="none" stroke="#4aa7b2" stroke-width="1"/>
<circle cx="285.5" cy="795.64" r="2.8" fill="none" stroke="#4aa7b2" stroke-width="1"/>
<circle cx="289" cy="795.64" r="2.8" fill="none" stroke="#4aa7b2" stroke-width="1"/>
<circle cx="292.5" cy="795.64" r="2.8" fill="none" stroke="#4aa7b2" stroke-width="1"/>
<circle cx="283.2" cy="805.6" r="2.8" fill="none" stroke="#4aa7b2" stroke-width="1"/>
<circle cx="286.1" cy="805.6" r="2.8" fill="none" stroke="#4aa7b2" stroke-width="1"/>
<circle cx="289" cy="805.6" r="2.8" fill="none" stroke="#4aa7b2" stroke-width="1"/>
<circle cx="291.9" cy="805.6" r="2.8" fill="none" stroke="#4aa7b2" stroke-width="1"/>
<circle cx="294.8" cy="805.6" r="2.8" fill="none" stroke="#4aa7b2" stroke-width="1"/>
<rect x="280.25" y="800.02" width="17.5" height="5.58" stroke="#4aa7b2" stroke-width="1.4" fill="none"/>
<line x1="289" y1="800.02" x2="289" y2="797.63" stroke="#4aa7b2" stroke-width="1.2" />
<line x1="285" y1="797.63" x2="293" y2="797.63" stroke="#4aa7b2" stroke-width="1.2" />
<line x1="315" y1="805.6" x2="315" y2="808.1" stroke="#444" stroke-width="1" />
<rect x="312.2" y="782.88" width="5.6" height="5.6" stroke="#f0434b" stroke-width="1" fill="none"/>
<rect x="306.8" y="792.84" width="5.6" height="5.6" stroke="#f0434b" stroke-width="1" fill="none"/>
<rect x="310.4" y="792.84" width="5.6" height="5.6" stroke="#f0434b" stroke-width="1" fill="none"/>
<rect x="314" y="792.84" width="5.6" height="5.6" stroke="#f0434b" stroke-width="1" fill="none"/>
<rect x="317.6" y="792.84" width="5.6" height="5.6" stroke="#f0434b" stroke-width="1" fill="none"/>
<rect x="308.6" y="802.8" width="5.6" height="5.6" stroke="#f0434b" stroke-width="1" fill="none"/>
<rect x="312.2" y="802.8" width="5.6" height="5.6" stroke="#f0434b" stroke-width="1" fill="none"/>
<rect x="315.8" y="802.8" width="5.6" height="5.6" stroke="#f0434b" stroke-width="1" fill="none"/>
<rect x="306.25" y="794.05" width="17.5" height="11.55" stroke="#f0434b" stroke-width="1.4" fill="none"/>
<line x1="315" y1="794.05" x2="315" y2="793.25" stroke="#f0434b" stroke-width="1.2" />
<line x1="311" y1="793.25" x2="319" y2="793.25" stroke="#f0434b" stroke-width="1.2" />
<line x1="341.3" y1="805.6" x2="341.3" y2="808.1" stroke="#444" stroke-width="1" />
<circle cx="339.1" cy="785.68" r="3.3" fill="#4aa7b2" stroke="none" stroke-width="1"/>
<circle cx="343.5" cy="785.68" r="3.3" fill="#4aa7b2" stroke="none" stroke-width="1"/>
<circle cx="335.9" cy="795.64" r="3.3" fill="#4aa7b2" stroke="none" stroke-width="1"/>
<circle cx="338.6" cy="795.64" r="3.3" fill="#4aa7b2" stroke="none" stroke-width="1"/>
<circle cx="341.3" cy="795.64" r="3.3" fill="#4aa7b2" stroke="none" stroke-width="1"/>
<circle cx="344" cy="795.64" r="3.3" fill="#4aa7b2" stroke="none" stroke-width="1"/>
<circle cx="346.7" cy="795.64" r="3.3" fill="#4aa7b2" stroke="none" stroke-width="1"/>
<circle cx="339.5" cy="805.6" r="3.3" fill="#4aa7b2" stroke="none" stroke-width="1"/>
<circle cx="343.1" cy="805.6" r="3.3" fill="#4aa7b2" stroke="none" stroke-width="1"/>
<rect x="332.55" y="799.03" width="17.5" height="6.57" stroke="#4aa7b2" stroke-width="1.4" fill="none"/>
<line x1="341.3" y1="799.03" x2="341.3" y2="796.64" stroke="#4aa7b2" stroke-width="1.2" />
<line x1="337.3" y1="796.64" x2="345.3" y2="796.64" stroke="#4aa7b2" stroke-width="1.2" />
<line x1="368" y1="805.6" x2="368" y2="808.1" stroke="#444" stroke-width="1" />
<rect x="362.1" y="722.62" width="6.6" height="6.6" stroke="none" stroke-width="1" fill="#f0434b"/>
<rect x="364.7" y="722.62" width="6.6" height="6.6" stroke="none" stroke-width="1" fill="#f0434b"/>
<rect x="367.3" y="722.62" width="6.6" height="6.6" stroke="none" stroke-width="1" fill="#f0434b"/>
<rect x="362.1" y="732.58" width="6.6" height="6.6" stroke="none" stroke-width="1" fill="#f0434b"/>
<rect x="364.7" y="732.58" width="6.6" height="6.6" stroke="none" stroke-width="1" fill="#f0434b"/>
<rect x="367.3" y="732.58" width="6.6" height="6.6" stroke="none" stroke-width="1" fill="#f0434b"/>
<rect x="359.75" y="742.54" width="6.6" height="6.6" stroke="none" stroke-width="1" fill="#f0434b"/>
<rect x="363.05" y="742.54" width="6.6" height="6.6" stroke="none" stroke-width="1" fill="#f0434b"/>
<rect x="366.35" y="742.54" width="6.6" height="6.6" stroke="none" stroke-width="1" fill="#f0434b"/>
<rect x="369.65" y="742.54" width="6.6" height="6.6" stroke="none" stroke-width="1" fill="#f0434b"/>
<rect x="364.7" y="752.5" width="6.6" height="6.6" stroke="none" stroke-width="1" fill="#f0434b"/>
<rect x="359.25" y="739.86" width="17.5" height="65.74" stroke="#f0434b" stroke-width="1.4" fill="none"/>
<line x1="368" y1="739.86" x2="368" y2="739.47" stroke="#f0434b" stroke-width="1.2" />
<line x1="364" y1="739.47" x2="372" y2="739.47" stroke="#f0434b" stroke-width="1.2" />
<polyline points="315,777 315,691 371,691 371,697" stroke="#222" stroke-width="1.2" fill="none"/>
<polyline points="341.4,777.4 341.4,712.4 369,712.4 369,717.4" stroke="#222" stroke-width="1.2" fill="none"/>
<line x1="270" y1="805.6" x2="385.6" y2="805.6" stroke="#444" stroke-width="1.2" />
<text x="344" y="687" font-size="10.3" text-anchor="middle" font-style="italic">P &lt; 0.0001</text>
<text x="356.5" y="708.2" font-size="10.3" text-anchor="middle" font-style="italic">P &lt; 0.0001</text>
<text x="292" y="821" font-size="12" text-anchor="end" transform="rotate(-30 292 821)">Pristane-R90</text>
<text x="318" y="821" font-size="12" text-anchor="end" transform="rotate(-30 318 821)">Pristane-90H</text>
<text x="344.3" y="821" font-size="12" text-anchor="end" transform="rotate(-30 344.3 821)">MNV-Pristane-R90</text>
<text x="371" y="821" font-size="12" text-anchor="end" transform="rotate(-30 371 821)">MNV-Pristane-90H</text>
<text x="243" y="752" font-size="12.2" text-anchor="middle" transform="rotate(-90 243 752)">Kidney histology &#160;scores</text>
<text x="257" y="752" font-size="11.8" text-anchor="middle" transform="rotate(-90 257 752)">(0~4)</text>
</svg>
</body></html>
